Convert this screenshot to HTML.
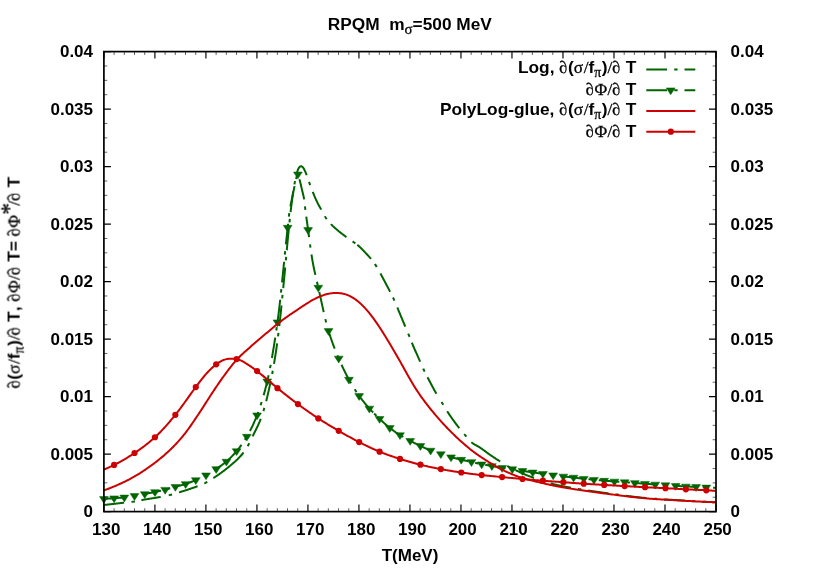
<!DOCTYPE html>
<html>
<head>
<meta charset="utf-8">
<title>RPQM m_sigma=500 MeV</title>
<style>
html,body{margin:0;padding:0;background:#ffffff;}
body{width:830px;height:581px;overflow:hidden;font-family:"Liberation Sans",sans-serif;}
svg{display:block;}
</style>
</head>
<body>
<svg width="830" height="581" viewBox="0 0 830 581">
<rect width="830" height="581" fill="#ffffff"/>
<g stroke="#000000" stroke-width="1.15" fill="none">
<path d="M103.90,511.60 v-7.00 M103.90,51.60 v7.00"/>
<path d="M154.91,511.60 v-7.00 M154.91,51.60 v7.00"/>
<path d="M205.92,511.60 v-7.00 M205.92,51.60 v7.00"/>
<path d="M256.93,511.60 v-7.00 M256.93,51.60 v7.00"/>
<path d="M307.93,511.60 v-7.00 M307.93,51.60 v7.00"/>
<path d="M358.94,511.60 v-7.00 M358.94,51.60 v7.00"/>
<path d="M409.95,511.60 v-7.00 M409.95,51.60 v7.00"/>
<path d="M460.96,511.60 v-7.00 M460.96,51.60 v7.00"/>
<path d="M511.97,511.60 v-7.00 M511.97,51.60 v7.00"/>
<path d="M562.98,511.60 v-7.00 M562.98,51.60 v7.00"/>
<path d="M613.98,511.60 v-7.00 M613.98,51.60 v7.00"/>
<path d="M664.99,511.60 v-7.00 M664.99,51.60 v7.00"/>
<path d="M716.00,511.60 v-7.00 M716.00,51.60 v7.00"/>
</g>
<g stroke="#555555" stroke-width="0.9" fill="none">
<path d="M114.10,511.60 v-3.40 M114.10,51.60 v3.40"/>
<path d="M124.30,511.60 v-3.40 M124.30,51.60 v3.40"/>
<path d="M134.50,511.60 v-3.40 M134.50,51.60 v3.40"/>
<path d="M144.71,511.60 v-3.40 M144.71,51.60 v3.40"/>
<path d="M165.11,511.60 v-3.40 M165.11,51.60 v3.40"/>
<path d="M175.31,511.60 v-3.40 M175.31,51.60 v3.40"/>
<path d="M185.51,511.60 v-3.40 M185.51,51.60 v3.40"/>
<path d="M195.72,511.60 v-3.40 M195.72,51.60 v3.40"/>
<path d="M216.12,511.60 v-3.40 M216.12,51.60 v3.40"/>
<path d="M226.32,511.60 v-3.40 M226.32,51.60 v3.40"/>
<path d="M236.52,511.60 v-3.40 M236.52,51.60 v3.40"/>
<path d="M246.72,511.60 v-3.40 M246.72,51.60 v3.40"/>
<path d="M267.13,511.60 v-3.40 M267.13,51.60 v3.40"/>
<path d="M277.33,511.60 v-3.40 M277.33,51.60 v3.40"/>
<path d="M287.53,511.60 v-3.40 M287.53,51.60 v3.40"/>
<path d="M297.73,511.60 v-3.40 M297.73,51.60 v3.40"/>
<path d="M318.13,511.60 v-3.40 M318.13,51.60 v3.40"/>
<path d="M328.34,511.60 v-3.40 M328.34,51.60 v3.40"/>
<path d="M338.54,511.60 v-3.40 M338.54,51.60 v3.40"/>
<path d="M348.74,511.60 v-3.40 M348.74,51.60 v3.40"/>
<path d="M369.14,511.60 v-3.40 M369.14,51.60 v3.40"/>
<path d="M379.35,511.60 v-3.40 M379.35,51.60 v3.40"/>
<path d="M389.55,511.60 v-3.40 M389.55,51.60 v3.40"/>
<path d="M399.75,511.60 v-3.40 M399.75,51.60 v3.40"/>
<path d="M420.15,511.60 v-3.40 M420.15,51.60 v3.40"/>
<path d="M430.35,511.60 v-3.40 M430.35,51.60 v3.40"/>
<path d="M440.55,511.60 v-3.40 M440.55,51.60 v3.40"/>
<path d="M450.76,511.60 v-3.40 M450.76,51.60 v3.40"/>
<path d="M471.16,511.60 v-3.40 M471.16,51.60 v3.40"/>
<path d="M481.36,511.60 v-3.40 M481.36,51.60 v3.40"/>
<path d="M491.56,511.60 v-3.40 M491.56,51.60 v3.40"/>
<path d="M501.76,511.60 v-3.40 M501.76,51.60 v3.40"/>
<path d="M522.17,511.60 v-3.40 M522.17,51.60 v3.40"/>
<path d="M532.37,511.60 v-3.40 M532.37,51.60 v3.40"/>
<path d="M542.57,511.60 v-3.40 M542.57,51.60 v3.40"/>
<path d="M552.77,511.60 v-3.40 M552.77,51.60 v3.40"/>
<path d="M573.18,511.60 v-3.40 M573.18,51.60 v3.40"/>
<path d="M583.38,511.60 v-3.40 M583.38,51.60 v3.40"/>
<path d="M593.58,511.60 v-3.40 M593.58,51.60 v3.40"/>
<path d="M603.78,511.60 v-3.40 M603.78,51.60 v3.40"/>
<path d="M624.19,511.60 v-3.40 M624.19,51.60 v3.40"/>
<path d="M634.39,511.60 v-3.40 M634.39,51.60 v3.40"/>
<path d="M644.59,511.60 v-3.40 M644.59,51.60 v3.40"/>
<path d="M654.79,511.60 v-3.40 M654.79,51.60 v3.40"/>
<path d="M675.19,511.60 v-3.40 M675.19,51.60 v3.40"/>
<path d="M685.40,511.60 v-3.40 M685.40,51.60 v3.40"/>
<path d="M695.60,511.60 v-3.40 M695.60,51.60 v3.40"/>
<path d="M705.80,511.60 v-3.40 M705.80,51.60 v3.40"/>
</g>
<g stroke="#000000" stroke-width="1.15" fill="none">
<path d="M103.90,511.60 h7.00 M716.00,511.60 h-7.00"/>
<path d="M103.90,454.10 h7.00 M716.00,454.10 h-7.00"/>
<path d="M103.90,396.60 h7.00 M716.00,396.60 h-7.00"/>
<path d="M103.90,339.10 h7.00 M716.00,339.10 h-7.00"/>
<path d="M103.90,281.60 h7.00 M716.00,281.60 h-7.00"/>
<path d="M103.90,224.10 h7.00 M716.00,224.10 h-7.00"/>
<path d="M103.90,166.60 h7.00 M716.00,166.60 h-7.00"/>
<path d="M103.90,109.10 h7.00 M716.00,109.10 h-7.00"/>
<path d="M103.90,51.60 h7.00 M716.00,51.60 h-7.00"/>
</g>
<g stroke="#555555" stroke-width="0.9" fill="none">
<path d="M103.90,497.23 h3.40 M716.00,497.23 h-3.40"/>
<path d="M103.90,482.85 h3.40 M716.00,482.85 h-3.40"/>
<path d="M103.90,468.48 h3.40 M716.00,468.48 h-3.40"/>
<path d="M103.90,439.73 h3.40 M716.00,439.73 h-3.40"/>
<path d="M103.90,425.35 h3.40 M716.00,425.35 h-3.40"/>
<path d="M103.90,410.98 h3.40 M716.00,410.98 h-3.40"/>
<path d="M103.90,382.23 h3.40 M716.00,382.23 h-3.40"/>
<path d="M103.90,367.85 h3.40 M716.00,367.85 h-3.40"/>
<path d="M103.90,353.48 h3.40 M716.00,353.48 h-3.40"/>
<path d="M103.90,324.73 h3.40 M716.00,324.73 h-3.40"/>
<path d="M103.90,310.35 h3.40 M716.00,310.35 h-3.40"/>
<path d="M103.90,295.98 h3.40 M716.00,295.98 h-3.40"/>
<path d="M103.90,267.23 h3.40 M716.00,267.23 h-3.40"/>
<path d="M103.90,252.85 h3.40 M716.00,252.85 h-3.40"/>
<path d="M103.90,238.48 h3.40 M716.00,238.48 h-3.40"/>
<path d="M103.90,209.73 h3.40 M716.00,209.73 h-3.40"/>
<path d="M103.90,195.35 h3.40 M716.00,195.35 h-3.40"/>
<path d="M103.90,180.98 h3.40 M716.00,180.98 h-3.40"/>
<path d="M103.90,152.23 h3.40 M716.00,152.23 h-3.40"/>
<path d="M103.90,137.85 h3.40 M716.00,137.85 h-3.40"/>
<path d="M103.90,123.48 h3.40 M716.00,123.48 h-3.40"/>
<path d="M103.90,94.73 h3.40 M716.00,94.73 h-3.40"/>
<path d="M103.90,80.35 h3.40 M716.00,80.35 h-3.40"/>
<path d="M103.90,65.98 h3.40 M716.00,65.98 h-3.40"/>
</g>
<clipPath id="c"><rect x="97.90" y="51.60" width="624.10" height="460.00"/></clipPath>
<g clip-path="url(#c)" fill="none" stroke-width="2" stroke-linejoin="round">
<path d="M103.90,505.00L104.34,504.95L104.78,504.90L105.21,504.85L105.65,504.80L106.09,504.75L106.53,504.69L106.96,504.64L107.40,504.59L107.84,504.54L108.28,504.49L108.71,504.44L109.15,504.39L109.59,504.34L110.03,504.29L110.46,504.24L110.90,504.19L111.34,504.14L111.78,504.09L112.21,504.04L112.65,503.99L113.09,503.94L113.53,503.89L113.96,503.84L114.40,503.79L114.84,503.74L115.28,503.69L115.71,503.64L116.15,503.59L116.59,503.54L117.03,503.49L117.46,503.44L117.90,503.40L118.34,503.35L118.78,503.30L119.21,503.25L119.65,503.20L120.09,503.15L120.53,503.10L120.96,503.05L121.40,503.00L121.84,502.95L122.28,502.90L122.71,502.85L123.15,502.81L123.59,502.76L124.03,502.71L124.10,502.70M141.40,500.10L141.53,500.08L141.96,500.00L142.40,499.92L142.84,499.84L143.28,499.77L143.71,499.69L144.15,499.62L144.59,499.55L145.03,499.47L145.47,499.40L145.90,499.33L146.34,499.26L146.78,499.19L147.22,499.12L147.65,499.05L148.09,498.98L148.53,498.91L148.97,498.84L149.40,498.77L149.84,498.70L150.28,498.63L150.72,498.56L151.15,498.50L151.59,498.43L152.03,498.36L152.47,498.29L152.90,498.22L153.34,498.15L153.78,498.08L154.22,498.01L154.65,497.94L155.09,497.87L155.53,497.80L155.97,497.73L156.40,497.65L156.84,497.58L157.28,497.51L157.72,497.43L158.15,497.36L158.59,497.28L159.03,497.20L159.47,497.13L159.90,497.05L160.34,496.97L160.70,496.90M179.00,492.40L179.15,492.35L179.59,492.22L180.03,492.08L180.47,491.95L180.90,491.81L181.34,491.68L181.78,491.54L182.22,491.40L182.65,491.27L183.09,491.13L183.53,490.99L183.97,490.85L184.40,490.72L184.84,490.58L185.28,490.44L185.72,490.30L186.16,490.16L186.59,490.02L187.03,489.88L187.47,489.73L187.91,489.59L188.34,489.45L188.78,489.30L189.22,489.16L189.66,489.01L190.09,488.86L190.53,488.72L190.97,488.57L191.41,488.42L191.84,488.27L192.28,488.12L192.72,487.96L193.16,487.81L193.59,487.66L194.03,487.50L194.47,487.34L194.91,487.19L195.34,487.03L195.78,486.87L196.22,486.70L196.66,486.54L197.09,486.38L197.53,486.21L197.60,486.19M213.40,478.06L213.72,477.85L214.16,477.56L214.59,477.27L215.03,476.98L215.47,476.69L215.91,476.40L216.34,476.10L216.78,475.81L217.22,475.51L217.66,475.21L218.09,474.91L218.53,474.61L218.97,474.31L219.41,474.00L219.84,473.70L220.28,473.39L220.72,473.07L221.16,472.76L221.59,472.44L222.03,472.13L222.47,471.81L222.91,471.48L223.34,471.16L223.78,470.83L224.22,470.49L224.66,470.16L225.09,469.82L225.53,469.48L225.97,469.14L226.41,468.79L226.85,468.44L227.28,468.09L227.72,467.73L228.16,467.37L228.60,467.01L229.03,466.65L229.47,466.29L229.91,465.92L230.35,465.56L230.78,465.20L231.22,464.83L231.66,464.46L232.10,464.09L232.53,463.72L232.97,463.35L233.41,462.97L233.85,462.59L234.28,462.20L234.72,461.81L235.16,461.42L235.60,461.02L236.03,460.61L236.47,460.20L236.91,459.79L237.35,459.37L237.78,458.94L238.22,458.50L238.66,458.06L239.10,457.61L239.53,457.16L239.97,456.69L240.41,456.22L240.85,455.74L241.28,455.25L241.72,454.75L242.16,454.25L242.60,453.73L243.03,453.20L243.47,452.66L243.60,452.50M252.60,436.40L252.66,436.28L253.10,435.38L253.53,434.49L253.97,433.60L254.41,432.72L254.85,431.85L255.28,430.97L255.72,430.09L256.16,429.21L256.60,428.31L257.03,427.41L257.47,426.49L257.91,425.56L258.35,424.61L258.78,423.63L259.22,422.64L259.66,421.61L260.10,420.56L260.53,419.47L260.80,418.79M131.51,501.92L131.90,501.87L132.34,501.82L132.78,501.76L133.21,501.70L133.65,501.63L134.09,501.56L134.53,501.49L134.88,501.43M168.74,495.29L169.09,495.21L169.53,495.11L169.97,495.00L170.40,494.90L170.84,494.79L171.28,494.68L171.72,494.57L172.05,494.48M204.27,483.44L204.53,483.32L204.97,483.11L205.41,482.90L205.84,482.68L206.28,482.45L206.72,482.22L207.16,481.98L207.30,481.90M247.67,446.20L247.85,445.88L248.28,445.11L248.72,444.32L249.16,443.49L249.30,443.22M263.41,411.13L263.60,410.52L264.03,409.04L264.37,407.87M297.13,172.20L297.29,171.66L297.72,170.32L298.16,169.18L298.60,168.30L299.04,167.69L299.47,167.16L299.91,166.70L300.35,166.37L300.79,166.21L301.22,166.25L301.66,166.43L302.10,166.72L302.54,167.08L302.97,167.47L303.41,168.02L303.85,168.74L304.29,169.58L304.72,170.45L305.16,171.35L305.60,172.34L306.04,173.41L306.47,174.52L306.74,175.20M266.14,401.29L266.22,400.97L266.66,399.23L267.10,397.45L267.54,395.63L267.97,393.77L268.41,391.87L268.85,389.93L269.29,387.96L269.72,385.95L270.16,383.90L270.60,381.81L270.74,381.11M272.14,374.04L272.35,372.97L272.77,370.70M273.98,363.91L274.10,363.20L274.54,360.59L274.97,357.91L275.41,355.16L275.85,352.33L276.29,349.42L276.72,346.38L277.12,343.45M278.04,336.31L278.46,332.93M279.27,326.08L279.35,325.38L279.79,321.57L280.22,317.62L280.66,313.54L281.10,309.34L281.49,305.50M282.21,298.34L282.41,296.26L282.54,294.95M283.21,288.09L283.29,287.31L283.72,282.83L284.16,278.35L284.60,273.78L285.04,269.12L285.19,267.48M285.85,260.31L285.91,259.60L286.16,256.93M286.78,250.05L286.79,250.04L287.22,245.30L287.66,240.63L288.10,236.06L288.54,231.61L288.76,229.45M289.49,222.29L289.84,218.90M290.59,212.04L290.72,210.83L291.16,207.12L291.60,203.64L292.04,200.27L292.47,197.04L292.91,193.95L293.27,191.52M294.45,184.42L294.66,183.19L295.05,181.07M312.70,191.85L313.04,192.68L313.48,193.74L313.91,194.79L314.35,195.83L314.79,196.85L315.23,197.85L315.66,198.84L316.10,199.81L316.54,200.76L316.98,201.69L317.41,202.61L317.85,203.50L318.29,204.37L318.73,205.21L319.16,206.01L319.60,206.80L320.04,207.57L320.48,208.34L320.91,209.11L321.20,209.62M330.90,224.09L330.98,224.18L331.41,224.63L331.85,225.08L332.29,225.51L332.73,225.94L333.16,226.36L333.60,226.77L334.04,227.17L334.48,227.56L334.91,227.95L335.35,228.34L335.79,228.72L336.23,229.09L336.66,229.46L337.10,229.83L337.54,230.20L337.98,230.56L338.41,230.93L338.85,231.29L339.29,231.65L339.73,232.01L340.16,232.36L340.60,232.71L341.04,233.05L341.48,233.40L341.91,233.74L342.35,234.07L342.79,234.41L343.23,234.74L343.66,235.07L344.10,235.40L344.54,235.73L344.98,236.05L345.41,236.37L345.85,236.70L346.29,237.02L346.50,237.17M357.30,244.84L357.67,245.13L358.10,245.49L358.54,245.86L358.98,246.25L359.42,246.65L359.85,247.06L360.29,247.48L360.73,247.90L361.17,248.33L361.60,248.76L362.04,249.20L362.48,249.64L362.92,250.09L363.35,250.54L363.79,250.99L364.23,251.45L364.67,251.91L365.10,252.38L365.54,252.84L365.98,253.31L366.42,253.78L366.85,254.25L367.29,254.72L367.73,255.20L368.17,255.68L368.60,256.17L369.04,256.67L369.48,257.17L369.92,257.68L370.35,258.20L370.79,258.73L371.00,258.99M380.40,273.52L380.42,273.55L380.85,274.34L381.29,275.14L381.73,275.94L382.17,276.74L382.60,277.55L383.04,278.35L383.48,279.17L383.92,279.98L384.35,280.80L384.79,281.62L385.23,282.45L385.67,283.27L386.10,284.10L386.54,284.94L386.98,285.77L387.42,286.61L387.85,287.45L388.29,288.29L388.73,289.14L389.17,289.99L389.61,290.84L390.04,291.69L390.10,291.80M397.30,307.50L397.48,307.93L397.92,308.97L398.36,310.02L398.79,311.07L399.23,312.12L399.67,313.17L400.11,314.22L400.54,315.28L400.98,316.33L401.42,317.39L401.86,318.44L402.29,319.49L402.73,320.55L403.17,321.60L403.61,322.65L404.04,323.70L404.48,324.75L404.92,325.79L405.30,326.70M411.80,342.60L411.92,342.89L412.36,343.94L412.79,344.98L413.23,346.01L413.67,347.02L414.11,348.03L414.54,349.03L414.98,350.02L415.42,351.01L415.86,351.99L416.29,352.97L416.73,353.95L417.17,354.92L417.61,355.89L418.04,356.86L418.48,357.84L418.92,358.82L419.36,359.80L419.79,360.78L420.20,361.70M427.50,377.30L427.67,377.63L428.11,378.46L428.54,379.28L428.98,380.09L429.42,380.91L429.86,381.73L430.29,382.56L430.73,383.39L431.17,384.21L431.61,385.04L432.05,385.87L432.48,386.70L432.92,387.52L433.36,388.33L433.80,389.15L434.23,389.95L434.67,390.75L435.11,391.54L435.55,392.31L435.98,393.08L436.40,393.80M447.20,411.30L447.36,411.54L447.80,412.21L448.23,412.87L448.67,413.52L449.11,414.17L449.55,414.82L449.98,415.46L450.42,416.10L450.86,416.74L451.30,417.37L451.73,417.99L452.17,418.61L452.61,419.23L453.05,419.84L453.48,420.45L453.92,421.06L454.36,421.66L454.80,422.26L455.23,422.85L455.67,423.44L456.11,424.03L456.55,424.61L456.98,425.19L457.42,425.77L457.86,426.34L458.30,426.91L458.73,427.47L459.17,428.04L459.30,428.20M471.30,442.20L471.42,442.30L471.86,442.64L472.30,442.97L472.74,443.28L473.17,443.57L473.61,443.86L474.05,444.13L474.49,444.39L474.92,444.65L475.36,444.90L475.80,445.15L476.24,445.39L476.67,445.63L477.11,445.87L477.55,446.12L477.99,446.37L478.42,446.62L478.86,446.88L479.30,447.15L479.74,447.43L480.17,447.72L480.61,448.01L481.05,448.31L481.49,448.62L481.92,448.93L482.36,449.24L482.80,449.55L483.24,449.87L483.67,450.19L484.11,450.51L484.55,450.84L484.99,451.16L485.42,451.49L485.86,451.81L486.30,452.14L486.74,452.46L487.17,452.78L487.61,453.10L488.05,453.42L488.49,453.74L488.92,454.05L489.36,454.36L489.80,454.66L490.24,454.96L490.67,455.26L491.11,455.56L491.55,455.86L491.99,456.15L492.42,456.45L492.86,456.74L493.30,457.03L493.74,457.33L494.17,457.62L494.61,457.91L495.05,458.19L495.49,458.48L495.92,458.77L496.36,459.05L496.80,459.34L497.24,459.62L497.67,459.90L498.11,460.18L498.55,460.46L498.99,460.74L499.42,461.01L499.86,461.29L500.20,461.50M515.90,470.30L516.05,470.37L516.49,470.59L516.93,470.80L517.36,471.01L517.80,471.22L518.24,471.43L518.68,471.64L519.11,471.85L519.55,472.06L519.99,472.27L520.43,472.47L520.86,472.68L521.30,472.88L521.74,473.08L522.18,473.28L522.61,473.47L523.05,473.67L523.49,473.86L523.93,474.05L524.36,474.23L524.80,474.42L525.24,474.60L525.68,474.78L526.11,474.96L526.55,475.13L526.99,475.31L527.43,475.48L527.86,475.65L528.30,475.83L528.74,476.00L529.18,476.16L529.61,476.33L530.05,476.50L530.49,476.67L530.93,476.83L531.36,476.99L531.80,477.16L532.24,477.32L532.68,477.48L533.11,477.64L533.55,477.79L533.99,477.95L534.00,477.95M309.04,181.89L309.10,182.06L309.54,183.32L309.98,184.55L310.17,185.10M324.79,216.21L324.85,216.32L325.29,217.03L325.73,217.69L326.16,218.32L326.60,218.93L326.68,219.03M352.61,241.44L352.85,241.61L353.29,241.92L353.73,242.23L354.17,242.55L354.60,242.86L355.04,243.18L355.38,243.42M374.85,264.05L375.17,264.51L375.60,265.16L376.04,265.83L376.48,266.53L376.70,266.90M392.97,297.47L393.11,297.74L393.54,298.66L393.98,299.61L394.40,300.55M408.25,333.63L408.42,334.03L408.86,335.09L409.29,336.18L409.53,336.78M423.19,368.55L423.29,368.79L423.73,369.74L424.17,370.67L424.61,371.58L424.63,371.63M441.50,401.96L441.67,402.23L442.11,402.93L442.55,403.64L442.98,404.36L443.28,404.85M464.19,434.11L464.42,434.38L464.86,434.89L465.30,435.40L465.73,435.91L466.17,436.44L466.39,436.71M507.22,465.76L507.30,465.81L507.74,466.06L508.17,466.31L508.61,466.55L509.05,466.79L509.49,467.03L509.92,467.27L510.19,467.41M540.82,480.27L540.99,480.32L541.43,480.46L541.86,480.61L542.30,480.75L542.74,480.89L543.18,481.03L543.61,481.17L544.05,481.31L544.05,481.31M550.65,483.33L551.05,483.44L551.49,483.56L551.93,483.68L552.36,483.80L552.80,483.92L553.24,484.04L553.68,484.16L554.12,484.27L554.55,484.38L554.99,484.49L555.43,484.60L555.87,484.71L556.30,484.81L556.74,484.92L557.18,485.02L557.62,485.12L558.05,485.21L558.49,485.31L558.93,485.41L559.37,485.50L559.80,485.59L560.24,485.69L560.68,485.78L561.12,485.87L561.55,485.96L561.99,486.04L562.43,486.13L562.87,486.22L563.30,486.30L563.74,486.38L564.18,486.47L564.62,486.55L565.05,486.63L565.49,486.71L565.93,486.79L566.37,486.87L566.80,486.95L567.24,487.03L567.68,487.11L568.12,487.19L568.55,487.26L568.99,487.34L569.43,487.42L569.87,487.49L570.30,487.57L570.74,487.64L570.88,487.67M577.98,488.87L578.18,488.90L578.62,488.97L579.05,489.04L579.49,489.12L579.93,489.19L580.37,489.26L580.80,489.33L581.24,489.40L581.34,489.42M588.15,490.48L588.24,490.50L588.68,490.56L589.12,490.63L589.55,490.69L589.99,490.76L590.43,490.83L590.87,490.89L591.30,490.96L591.74,491.02L592.18,491.09L592.62,491.15L593.05,491.21L593.49,491.28L593.93,491.34L594.37,491.41L594.81,491.47L595.24,491.53L595.68,491.60L596.12,491.66L596.56,491.72L596.99,491.79L597.43,491.85L597.87,491.91L598.31,491.97L598.74,492.03L599.18,492.09L599.62,492.16L600.06,492.22L600.49,492.28L600.93,492.34L601.37,492.40L601.81,492.46L602.24,492.52L602.68,492.58L603.12,492.63L603.56,492.69L603.99,492.75L604.43,492.81L604.87,492.87L605.31,492.93L605.74,492.99L606.18,493.05L606.62,493.10L607.06,493.16L607.49,493.22L607.93,493.28L608.37,493.34L608.65,493.37M615.79,494.32L615.81,494.32L616.24,494.38L616.68,494.44L617.12,494.50L617.56,494.56L617.99,494.62L618.43,494.68L618.87,494.74L619.16,494.78M625.99,495.73L626.31,495.78L626.74,495.84L627.18,495.90L627.62,495.95L628.06,496.01L628.49,496.07L628.93,496.13L629.37,496.19L629.81,496.25L630.24,496.30L630.68,496.36L631.12,496.42L631.56,496.47L631.99,496.53L632.43,496.58L632.87,496.64L633.31,496.69L633.74,496.74L634.18,496.79L634.62,496.85L635.06,496.90L635.50,496.95L635.93,497.00L636.37,497.05L636.81,497.09L637.25,497.14L637.68,497.19L638.12,497.23L638.56,497.28L639.00,497.32L639.43,497.37L639.87,497.41L640.31,497.46L640.75,497.50L641.18,497.54L641.62,497.59L642.06,497.63L642.50,497.67L642.93,497.71L643.37,497.76L643.81,497.80L644.25,497.84L644.68,497.88L645.12,497.92L645.56,497.96L646.00,498.00L646.43,498.04L646.56,498.05M653.73,498.65L653.87,498.66L654.31,498.69L654.75,498.72L655.18,498.76L655.62,498.79L656.06,498.82L656.50,498.86L656.93,498.89L657.12,498.90M664.01,499.36L664.37,499.38L664.81,499.41L665.25,499.44L665.68,499.46L666.12,499.49L666.56,499.51L667.00,499.54L667.43,499.57L667.87,499.59L668.31,499.62L668.75,499.64L669.18,499.67L669.62,499.70L670.06,499.72L670.50,499.75L670.93,499.77L671.37,499.80L671.81,499.82L672.25,499.85L672.68,499.88L673.12,499.90L673.56,499.93L674.00,499.95L674.43,499.98L674.87,500.01L675.31,500.03L675.75,500.06L676.19,500.09L676.62,500.11L677.06,500.14L677.50,500.17L677.94,500.20L678.37,500.22L678.81,500.25L679.25,500.28L679.69,500.31L680.12,500.34L680.56,500.36L681.00,500.39L681.44,500.42L681.87,500.45L682.31,500.48L682.75,500.50L683.19,500.53L683.62,500.56L684.06,500.59L684.50,500.62L684.67,500.63M691.85,501.08L691.94,501.08L692.37,501.11L692.81,501.14L693.25,501.16L693.69,501.19L694.12,501.21L694.56,501.24L695.00,501.26L695.25,501.27M702.14,501.64L702.44,501.66L702.87,501.68L703.31,501.70L703.75,501.73L704.19,501.75L704.62,501.77L705.06,501.79L705.50,501.81L705.94,501.84L706.37,501.86L706.81,501.88L707.25,501.90L707.69,501.92L708.12,501.94L708.56,501.96L709.00,501.98L709.44,502.00L709.87,502.03L710.31,502.05L710.75,502.07L711.19,502.09L711.62,502.11L712.06,502.13L712.50,502.15L712.94,502.17L713.37,502.19L713.81,502.20L714.25,502.22L714.69,502.24L715.12,502.26L715.56,502.28L716.00,502.30" stroke="#006400"/>
<path d="M103.90,498.90L104.34,498.87L104.78,498.84L105.21,498.82L105.65,498.79L106.09,498.76L106.53,498.73L106.96,498.70L107.40,498.67L107.84,498.64L108.28,498.61L108.71,498.58L109.15,498.55L109.59,498.52L110.03,498.49L110.46,498.46L110.90,498.43L111.34,498.40L111.78,498.37L112.21,498.34L112.65,498.31L113.09,498.27L113.53,498.24L113.96,498.21L114.40,498.18L114.84,498.15L115.28,498.12L115.71,498.08L116.15,498.05L116.59,498.02L117.03,497.99L117.46,497.96L117.90,497.93L118.34,497.90L118.78,497.87L119.21,497.84L119.65,497.80L120.09,497.77L120.53,497.74L120.96,497.70L121.40,497.67L121.84,497.63L122.28,497.59L122.71,497.55L123.15,497.51L123.59,497.47L124.03,497.43L124.46,497.38L124.90,497.34L125.34,497.29L125.78,497.23L126.00,497.21M143.00,494.33L143.28,494.28L143.71,494.19L144.15,494.11L144.59,494.02L145.03,493.94L145.47,493.86L145.90,493.77L146.34,493.69L146.78,493.61L147.22,493.52L147.65,493.44L148.09,493.35L148.53,493.27L148.97,493.19L149.40,493.10L149.84,493.02L150.28,492.93L150.72,492.85L151.15,492.76L151.59,492.67L152.03,492.59L152.47,492.50L152.90,492.41L153.34,492.32L153.78,492.23L154.22,492.14L154.65,492.05L155.09,491.96L155.53,491.87L155.97,491.78L156.40,491.68L156.84,491.59L157.28,491.50L157.72,491.40L158.15,491.31L158.59,491.22L159.03,491.12L159.47,491.02L159.90,490.93L160.34,490.83L160.78,490.73L161.00,490.68M175.50,486.75L175.65,486.70L176.09,486.59L176.53,486.47L176.97,486.35L177.40,486.23L177.84,486.12L178.28,486.01L178.72,485.89L179.15,485.78L179.59,485.67L180.03,485.55L180.47,485.44L180.90,485.32L181.34,485.21L181.78,485.09L182.22,484.97L182.65,484.85L183.09,484.73L183.53,484.60L183.97,484.47L184.40,484.34L184.84,484.21L185.28,484.07L185.72,483.93L186.16,483.79L186.59,483.65L187.03,483.50L187.47,483.35L187.91,483.19L188.34,483.03L188.78,482.87L189.22,482.71L189.66,482.55L190.09,482.38L190.53,482.21L190.97,482.04L191.41,481.87L191.84,481.70L192.28,481.52L192.72,481.34L193.16,481.17L193.59,480.99L194.03,480.80L194.47,480.62L194.91,480.44L195.34,480.26L195.78,480.07L196.22,479.89L196.66,479.70L197.09,479.51L197.30,479.42M214.00,470.40L214.16,470.30L214.59,470.01L215.03,469.72L215.47,469.43L215.91,469.14L216.34,468.85L216.78,468.56L217.22,468.27L217.66,467.97L218.09,467.68L218.53,467.38L218.97,467.09L219.41,466.79L219.84,466.49L220.28,466.19L220.72,465.88L221.16,465.57L221.59,465.26L222.03,464.95L222.47,464.63L222.91,464.30L223.34,463.98L223.78,463.64L224.22,463.31L224.66,462.96L225.09,462.61L225.53,462.26L225.97,461.89L226.41,461.53L226.85,461.15L227.28,460.77L227.72,460.38L228.16,459.98L228.60,459.58L229.03,459.17L229.47,458.76L229.91,458.34L230.35,457.91L230.78,457.47L231.22,457.03L231.66,456.59L232.10,456.13L232.53,455.67L232.97,455.21L233.41,454.73L233.85,454.26L234.28,453.77L234.72,453.28L235.16,452.79L235.60,452.28L236.03,451.77L236.47,451.26L236.91,450.74L237.35,450.21L237.78,449.68L238.22,449.13L238.66,448.58L239.10,448.03L239.53,447.46L239.97,446.88L240.41,446.30L240.85,445.71L241.28,445.11L241.50,444.80M132.82,496.18L133.21,496.11L133.65,496.04L134.09,495.97L134.53,495.90L134.96,495.82L135.40,495.75L135.84,495.67L136.18,495.62M166.86,489.24L166.90,489.23L167.34,489.11L167.78,488.99L168.22,488.86L168.65,488.74L169.09,488.61L169.53,488.48L169.97,488.36L170.13,488.31M204.29,476.15L204.53,476.03L204.97,475.80L205.41,475.57L205.84,475.34L206.28,475.10L206.72,474.86L207.16,474.62L207.29,474.54M244.85,439.85L245.22,439.26L245.66,438.56L246.10,437.84L246.53,437.12L246.63,436.95M250.00,430.93L250.03,430.87L250.47,430.02L250.91,429.16L251.35,428.29L251.78,427.40L252.22,426.49L252.66,425.56L253.10,424.62L253.53,423.66L253.97,422.69L254.41,421.69L254.85,420.68L255.28,419.65L255.72,418.60L256.16,417.52L256.60,416.43L257.03,415.32L257.47,414.18L257.91,413.02L258.29,411.98M260.65,405.18L260.97,404.17L261.41,402.79L261.68,401.94M263.63,395.32L264.03,393.87L264.47,392.27L264.91,390.64L265.35,388.97L265.78,387.26L266.22,385.52L266.66,383.74L267.10,381.92L267.54,380.06L267.97,378.12L268.41,376.13L268.60,375.23M270.03,368.17L270.16,367.53L270.60,365.23L270.67,364.83M271.90,358.04L271.91,358.00L272.35,355.47L272.79,352.90L273.22,350.27L273.66,347.58L274.10,344.85L274.54,342.07L274.97,339.24L275.22,337.61M276.28,330.49L276.29,330.46L276.72,327.45L276.77,327.13M277.73,320.29L278.04,317.97L278.47,314.54L278.91,310.96L279.35,307.25L279.79,303.43L280.20,299.74M280.97,292.58L281.10,291.36L281.32,289.20M282.04,282.34L282.41,278.66L282.85,274.34L283.29,270.00L283.72,265.64L284.11,261.74M284.84,254.58L285.04,252.62L285.18,251.20M285.89,244.33L285.91,244.09L286.35,239.91L286.79,235.80L287.22,231.77L287.66,227.81L288.09,223.75M288.87,216.59L288.97,215.71L289.29,213.22M290.39,206.41L290.72,204.64L291.16,202.48L291.60,200.39L292.04,198.29L292.47,196.14L292.91,193.99L293.35,191.89L293.79,189.81L294.22,187.76L294.57,186.14M296.08,179.09L296.41,177.65L296.85,176.20L296.98,175.82M299.40,179.15L299.47,179.41L299.91,180.99L300.35,182.73L300.79,184.58L301.22,186.49L301.66,188.40L302.10,190.24L302.54,191.97L302.97,193.70L303.41,195.58L303.85,197.75L304.10,199.30M304.97,206.45L305.16,208.03L305.39,209.82M306.28,216.66L306.47,218.09L306.91,221.30L307.35,224.47L307.79,227.64L308.23,230.83L308.66,234.07L309.08,237.17M310.04,244.31L310.41,247.07L310.50,247.68M311.48,254.51L311.73,256.12L312.16,258.87L312.60,261.44L313.04,263.84L313.48,266.11L313.91,268.28L314.35,270.37L314.79,272.37L315.23,274.32L315.34,274.84M316.99,281.85L317.41,283.66L317.76,285.16M319.27,291.89L319.60,293.39L320.04,295.39L320.48,297.39L320.91,299.40L321.35,301.41L321.79,303.41L322.23,305.41L322.66,307.39L323.10,309.36L323.54,311.30L323.72,312.11M325.36,319.12L325.73,320.62L326.16,322.37L326.18,322.42M327.98,329.08L328.35,330.35L328.79,331.78L329.23,333.19L329.66,334.56L330.10,335.91L330.54,337.23L330.98,338.52L331.41,339.79L331.85,341.04L332.29,342.26L332.73,343.47L333.16,344.65L333.60,345.81L334.04,346.96L334.48,348.09L334.70,348.65M337.41,355.32L337.54,355.63L337.98,356.67L338.41,357.71L338.73,358.45M341.52,364.76L341.91,365.63L342.35,366.58L342.79,367.51L343.23,368.43L343.66,369.34L344.10,370.25L344.54,371.14L344.98,372.02L345.41,372.89L345.85,373.75L346.29,374.61L346.73,375.45L347.16,376.28L347.60,377.11L348.04,377.92L348.48,378.72L348.92,379.52L349.35,380.30L349.79,381.08L350.23,381.85L350.67,382.62L350.98,383.16M354.72,389.32L355.04,389.83L355.48,390.51L355.92,391.18L356.35,391.84L356.57,392.17M360.55,397.80L360.73,398.03L361.17,398.61L361.60,399.18L362.04,399.75L362.48,400.31L362.92,400.86L363.35,401.41L363.79,401.95L364.23,402.48L364.67,403.02L365.10,403.54L365.54,404.06L365.98,404.58L366.42,405.09L366.85,405.60L367.29,406.10L367.73,406.60L368.17,407.10L368.60,407.60L369.04,408.09L369.48,408.57L369.92,409.06L370.35,409.53L370.79,410.01L371.23,410.48L371.67,410.94L372.10,411.41L372.54,411.86L372.98,412.32L373.20,412.54M374.10,413.47L374.29,413.66L374.73,414.10L375.17,414.54L375.60,414.97L376.04,415.41L376.48,415.84L376.51,415.87M439.18,453.55L439.48,453.65L439.92,453.79L440.36,453.94L440.80,454.08L441.23,454.22L441.67,454.36L442.11,454.50L442.42,454.60M377.30,416.64L377.35,416.69L377.79,417.11L378.23,417.53L378.67,417.95L379.10,418.37L379.54,418.79L379.98,419.20L380.42,419.62L380.85,420.03L381.29,420.44L381.73,420.85L382.17,421.26L382.60,421.67L383.04,422.08L383.48,422.48L383.92,422.88L384.35,423.28L384.79,423.67L385.23,424.06L385.67,424.45L386.10,424.83L386.54,425.21L386.98,425.59L387.42,425.96L387.85,426.33L388.29,426.69L388.73,427.05L389.17,427.40L389.61,427.75L390.04,428.09L390.48,428.43L390.92,428.76L391.36,429.10L391.79,429.43L392.23,429.75L392.67,430.08L393.11,430.40L393.54,430.71L393.98,431.03L394.42,431.34L394.86,431.65L395.29,431.95L395.73,432.26L396.17,432.55L396.61,432.85L397.04,433.15L397.48,433.44L397.92,433.72L398.36,434.01L398.79,434.29L399.23,434.57L399.67,434.85L400.11,435.12L400.54,435.40L400.98,435.66L401.42,435.93L401.86,436.19L402.29,436.45L402.73,436.71L403.17,436.96L403.20,436.98M407.60,439.44L407.98,439.65L408.42,439.88L408.86,440.12L409.29,440.35L409.73,440.58L410.17,440.82L410.61,441.05L411.04,441.28L411.48,441.51L411.92,441.73L412.36,441.96L412.79,442.18L413.23,442.41L413.67,442.63L414.11,442.85L414.54,443.07L414.98,443.29L415.42,443.51L415.86,443.72L416.29,443.94L416.73,444.15L417.17,444.37L417.61,444.58L418.04,444.79L418.48,445.00L418.92,445.21L419.36,445.42L419.79,445.63L420.23,445.84L420.67,446.05L421.11,446.25L421.54,446.46L421.98,446.67L422.42,446.88L422.86,447.08L423.29,447.29L423.73,447.49L424.17,447.70L424.61,447.90L425.04,448.10L425.48,448.30L425.92,448.50L426.36,448.70L426.79,448.90L427.23,449.09L427.67,449.28L428.11,449.47L428.54,449.66L428.98,449.84L429.42,450.02L429.86,450.20L430.29,450.38L430.73,450.55L431.17,450.72L431.20,450.73M448.00,456.32L448.23,456.39L448.67,456.52L449.11,456.64L449.55,456.77L449.98,456.89L450.42,457.01L450.86,457.13L451.30,457.25L451.73,457.36L452.17,457.48L452.61,457.59L453.05,457.70L453.48,457.81L453.92,457.92L454.36,458.03L454.80,458.14L455.23,458.25L455.67,458.35L456.11,458.46L456.55,458.56L456.98,458.67L457.42,458.77L457.86,458.87L458.30,458.98L458.73,459.08L459.17,459.18L459.61,459.28L460.05,459.39L460.48,459.49L460.92,459.59L461.36,459.69L461.80,459.80L462.23,459.90L462.67,460.00L463.11,460.10L463.55,460.20L463.98,460.30L464.42,460.40L464.86,460.49L465.30,460.59L465.73,460.69L466.17,460.79L466.61,460.88L467.05,460.98L467.48,461.08L467.92,461.18L468.11,461.22M475.13,462.83L475.36,462.88L475.80,462.98L476.24,463.09L476.67,463.19L477.11,463.29L477.55,463.39L477.99,463.49L478.42,463.59L478.44,463.59M485.22,464.87L485.42,464.90L485.86,464.97L486.30,465.04L486.74,465.11L487.17,465.18L487.61,465.25L488.05,465.32L488.49,465.39L488.92,465.46L489.36,465.53L489.80,465.60L490.24,465.67L490.67,465.75L491.11,465.82L491.55,465.90L491.99,465.98L492.42,466.06L492.86,466.14L493.30,466.22L493.74,466.30L494.17,466.39L494.61,466.47L495.05,466.56L495.49,466.65L495.92,466.73L496.36,466.82L496.80,466.91L497.24,466.99L497.67,467.08L498.11,467.16L498.55,467.25L498.99,467.33L499.42,467.41L499.86,467.49L500.30,467.56L500.74,467.64L501.17,467.71L501.61,467.78L502.05,467.84L502.49,467.91L502.92,467.97L503.36,468.03L503.80,468.08L504.24,468.14L504.67,468.20L505.11,468.25L505.55,468.30L505.63,468.31M512.77,469.22L512.99,469.25L513.43,469.32L513.86,469.39L514.30,469.46L514.74,469.53L515.18,469.61L515.61,469.68L516.05,469.76L516.12,469.77M522.93,470.92L523.05,470.94L523.49,471.00L523.93,471.07L524.36,471.14L524.80,471.20L525.24,471.27L525.68,471.33L526.11,471.39L526.55,471.46L526.99,471.52L527.43,471.58L527.86,471.65L528.30,471.71L528.74,471.77L529.18,471.84L529.61,471.90L530.05,471.96L530.49,472.03L530.93,472.09L531.36,472.15L531.80,472.22L532.24,472.28L532.68,472.35L533.11,472.41L533.55,472.47L533.99,472.54L534.43,472.60L534.86,472.67L535.30,472.73L535.74,472.80L536.18,472.86L536.61,472.93L537.05,472.99L537.49,473.06L537.93,473.12L538.36,473.19L538.80,473.25L539.24,473.32L539.68,473.38L540.11,473.45L540.55,473.51L540.99,473.57L541.43,473.64L541.86,473.70L542.30,473.76L542.74,473.82L543.18,473.89L543.41,473.92M550.54,474.91L550.61,474.92L551.05,474.98L551.49,475.03L551.93,475.09L552.36,475.15L552.80,475.20L553.24,475.26L553.68,475.31L553.91,475.34M560.76,476.15L561.12,476.19L561.55,476.24L561.99,476.29L562.43,476.34L562.87,476.39L563.30,476.44L563.74,476.49L564.18,476.53L564.62,476.58L565.05,476.63L565.49,476.68L565.93,476.72L566.37,476.77L566.80,476.82L567.24,476.86L567.68,476.91L568.12,476.95L568.55,477.00L568.99,477.05L569.43,477.09L569.87,477.14L570.30,477.19L570.74,477.23L571.18,477.28L571.62,477.33L572.05,477.38L572.49,477.42L572.93,477.47L573.37,477.52L573.80,477.57L574.24,477.62L574.68,477.67L575.12,477.72L575.55,477.78L575.99,477.83L576.43,477.88L576.87,477.94L577.30,477.99L577.74,478.04L578.18,478.10L578.62,478.15L579.05,478.20L579.49,478.25L579.93,478.31L580.37,478.36L580.80,478.41L581.24,478.46L581.33,478.47M588.49,479.22L588.68,479.24L589.12,479.28L589.55,479.32L589.99,479.36L590.43,479.40L590.87,479.45L591.30,479.49L591.74,479.53L591.88,479.54M598.75,480.17L599.18,480.21L599.62,480.24L600.06,480.28L600.49,480.32L600.93,480.36L601.37,480.40L601.81,480.43L602.24,480.47L602.68,480.51L603.12,480.54L603.56,480.58L603.99,480.62L604.43,480.65L604.87,480.69L605.31,480.73L605.74,480.76L606.18,480.80L606.62,480.83L607.06,480.87L607.49,480.90L607.93,480.94L608.37,480.97L608.81,481.01L609.24,481.04L609.68,481.07L610.12,481.11L610.56,481.14L610.99,481.18L611.43,481.21L611.87,481.24L612.31,481.28L612.74,481.31L613.18,481.34L613.62,481.37L614.06,481.41L614.49,481.44L614.93,481.47L615.37,481.50L615.81,481.53L616.24,481.56L616.68,481.59L617.12,481.62L617.56,481.65L617.99,481.68L618.43,481.71L618.87,481.74L619.31,481.76L619.39,481.77M626.57,482.28L626.74,482.29L627.18,482.33L627.62,482.36L628.06,482.40L628.49,482.43L628.93,482.47L629.37,482.50L629.81,482.53L629.96,482.55M636.84,483.09L637.25,483.13L637.68,483.16L638.12,483.20L638.56,483.23L639.00,483.27L639.43,483.30L639.87,483.34L640.31,483.37L640.75,483.41L641.18,483.44L641.62,483.48L642.06,483.51L642.50,483.54L642.93,483.58L643.37,483.61L643.81,483.64L644.25,483.67L644.68,483.71L645.12,483.74L645.56,483.77L646.00,483.80L646.43,483.83L646.87,483.86L647.31,483.89L647.75,483.92L648.18,483.95L648.62,483.98L649.06,484.01L649.50,484.04L649.93,484.07L650.37,484.10L650.81,484.13L651.25,484.16L651.68,484.19L652.12,484.22L652.56,484.25L653.00,484.28L653.43,484.31L653.87,484.34L654.31,484.37L654.75,484.40L655.18,484.43L655.62,484.46L656.06,484.49L656.50,484.52L656.93,484.55L657.37,484.58L657.48,484.58M664.67,485.08L664.81,485.09L665.25,485.12L665.68,485.15L666.12,485.18L666.56,485.21L667.00,485.24L667.43,485.27L667.87,485.30L668.06,485.31M674.94,485.78L675.31,485.81L675.75,485.83L676.19,485.86L676.62,485.89L677.06,485.92L677.50,485.94L677.94,485.97L678.37,486.00L678.81,486.02L679.25,486.05L679.69,486.08L680.12,486.10L680.56,486.13L681.00,486.15L681.44,486.18L681.87,486.20L682.31,486.23L682.75,486.25L683.19,486.28L683.62,486.30L684.06,486.33L684.50,486.35L684.94,486.38L685.37,486.40L685.81,486.42L686.25,486.45L686.69,486.47L687.12,486.49L687.56,486.51L688.00,486.53L688.44,486.56L688.87,486.58L689.31,486.60L689.75,486.62L690.19,486.64L690.62,486.66L691.06,486.68L691.50,486.70L691.94,486.72L692.37,486.75L692.81,486.77L693.25,486.79L693.69,486.81L694.12,486.83L694.56,486.85L695.00,486.87L695.44,486.89L695.61,486.90M702.80,487.25L702.87,487.26L703.31,487.28L703.75,487.30L704.19,487.32L704.62,487.34L705.06,487.36L705.50,487.39L705.94,487.41L706.20,487.42M713.09,487.76L713.37,487.77L713.81,487.79L714.25,487.81L714.69,487.84L715.12,487.86L715.56,487.88L716.00,487.90" stroke="#006400"/>
<g fill="#006400" stroke="#006400" stroke-width="0.5" stroke-linejoin="round">
<path d="M99.50,496.60 L108.30,496.60 L103.90,503.40 Z"/>
<path d="M109.71,495.90 L118.51,495.90 L114.11,502.70 Z"/>
<path d="M119.92,495.10 L128.72,495.10 L124.32,501.90 Z"/>
<path d="M130.13,493.60 L138.93,493.60 L134.53,500.40 Z"/>
<path d="M140.34,491.69 L149.14,491.69 L144.74,498.49 Z"/>
<path d="M150.55,489.69 L159.35,489.69 L154.95,496.49 Z"/>
<path d="M160.76,487.39 L169.56,487.39 L165.16,494.19 Z"/>
<path d="M170.97,484.48 L179.77,484.48 L175.37,491.28 Z"/>
<path d="M181.18,481.68 L189.98,481.68 L185.58,488.48 Z"/>
<path d="M191.39,477.77 L200.19,477.77 L195.79,484.57 Z"/>
<path d="M201.60,472.96 L210.40,472.96 L206.00,479.76 Z"/>
<path d="M211.81,466.64 L220.61,466.64 L216.21,473.44 Z"/>
<path d="M222.02,459.22 L230.82,459.22 L226.42,466.02 Z"/>
<path d="M232.23,448.77 L241.03,448.77 L236.63,455.57 Z"/>
<path d="M242.44,434.30 L251.24,434.30 L246.84,441.10 Z"/>
<path d="M252.65,412.98 L261.45,412.98 L257.05,419.78 Z"/>
<path d="M262.86,378.94 L271.66,378.94 L267.26,385.74 Z"/>
<path d="M273.07,319.89 L281.87,319.89 L277.47,326.69 Z"/>
<path d="M283.28,225.34 L292.08,225.34 L287.68,232.14 Z"/>
<path d="M293.49,172.07 L302.29,172.07 L297.89,178.87 Z"/>
<path d="M303.70,227.62 L312.50,227.62 L308.10,234.42 Z"/>
<path d="M313.91,285.28 L322.71,285.28 L318.31,292.08 Z"/>
<path d="M324.12,328.61 L332.92,328.61 L328.52,335.41 Z"/>
<path d="M334.33,356.15 L343.13,356.15 L338.73,362.95 Z"/>
<path d="M344.54,377.26 L353.34,377.26 L348.94,384.06 Z"/>
<path d="M354.75,393.59 L363.55,393.59 L359.15,400.39 Z"/>
<path d="M364.96,406.14 L373.76,406.14 L369.36,412.94 Z"/>
<path d="M375.17,416.51 L383.97,416.51 L379.57,423.31 Z"/>
<path d="M385.38,425.58 L394.18,425.58 L389.78,432.38 Z"/>
<path d="M395.59,432.75 L404.39,432.75 L399.99,439.55 Z"/>
<path d="M405.80,438.53 L414.60,438.53 L410.20,445.33 Z"/>
<path d="M416.01,443.62 L424.81,443.62 L420.41,450.42 Z"/>
<path d="M426.22,448.21 L435.02,448.21 L430.62,455.01 Z"/>
<path d="M436.43,451.79 L445.23,451.79 L440.83,458.59 Z"/>
<path d="M446.64,454.88 L455.44,454.88 L451.04,461.68 Z"/>
<path d="M456.85,457.37 L465.65,457.37 L461.25,464.17 Z"/>
<path d="M467.06,459.67 L475.86,459.67 L471.46,466.47 Z"/>
<path d="M477.27,461.96 L486.07,461.96 L481.67,468.76 Z"/>
<path d="M487.48,463.66 L496.28,463.66 L491.88,470.46 Z"/>
<path d="M497.69,465.55 L506.49,465.55 L502.09,472.35 Z"/>
<path d="M507.90,466.85 L516.70,466.85 L512.30,473.65 Z"/>
<path d="M518.11,468.55 L526.91,468.55 L522.51,475.35 Z"/>
<path d="M528.32,470.05 L537.12,470.05 L532.72,476.85 Z"/>
<path d="M538.53,471.55 L547.33,471.55 L542.93,478.35 Z"/>
<path d="M548.74,472.95 L557.54,472.95 L553.14,479.75 Z"/>
<path d="M558.95,474.14 L567.75,474.14 L563.35,480.94 Z"/>
<path d="M569.16,475.24 L577.96,475.24 L573.56,482.04 Z"/>
<path d="M579.37,476.44 L588.17,476.44 L583.77,483.24 Z"/>
<path d="M589.58,477.44 L598.38,477.44 L593.98,484.24 Z"/>
<path d="M599.79,478.33 L608.59,478.33 L604.19,485.13 Z"/>
<path d="M610.00,479.13 L618.80,479.13 L614.40,485.93 Z"/>
<path d="M620.21,479.83 L629.01,479.83 L624.61,486.63 Z"/>
<path d="M630.42,480.63 L639.22,480.63 L634.82,487.43 Z"/>
<path d="M640.63,481.43 L649.43,481.43 L645.03,488.23 Z"/>
<path d="M650.84,482.13 L659.64,482.13 L655.24,488.93 Z"/>
<path d="M661.05,482.83 L669.85,482.83 L665.45,489.63 Z"/>
<path d="M671.26,483.53 L680.06,483.53 L675.66,490.33 Z"/>
<path d="M681.47,484.13 L690.27,484.13 L685.87,490.93 Z"/>
<path d="M691.68,484.62 L700.48,484.62 L696.08,491.42 Z"/>
<path d="M701.89,485.12 L710.69,485.12 L706.29,491.92 Z"/>
</g>
<path d="M103.90,490.38L104.78,490.07L105.65,489.75L106.53,489.43L107.40,489.10L108.28,488.77L109.15,488.44L110.03,488.10L110.91,487.75L111.78,487.40L112.66,487.05L113.53,486.69L114.41,486.32L115.28,485.96L116.16,485.58L117.04,485.20L117.91,484.82L118.79,484.43L119.66,484.03L120.54,483.63L121.41,483.23L122.29,482.82L123.16,482.41L124.04,481.98L124.92,481.56L125.79,481.13L126.67,480.69L127.54,480.24L128.42,479.79L129.29,479.34L130.17,478.87L131.05,478.40L131.92,477.93L132.80,477.44L133.67,476.95L134.55,476.45L135.42,475.94L136.30,475.43L137.18,474.90L138.05,474.37L138.93,473.83L139.80,473.28L140.68,472.73L141.55,472.16L142.43,471.59L143.31,471.02L144.18,470.43L145.06,469.84L145.93,469.24L146.81,468.64L147.68,468.03L148.56,467.41L149.44,466.79L150.31,466.16L151.19,465.53L152.06,464.89L152.94,464.25L153.81,463.59L154.69,462.93L155.57,462.27L156.44,461.59L157.32,460.91L158.19,460.22L159.07,459.53L159.94,458.82L160.82,458.10L161.69,457.38L162.57,456.64L163.45,455.90L164.32,455.14L165.20,454.37L166.07,453.60L166.95,452.81L167.82,452.01L168.70,451.19L169.58,450.37L170.45,449.53L171.33,448.68L172.20,447.82L173.08,446.94L173.95,446.05L174.83,445.15L175.71,444.23L176.58,443.30L177.46,442.35L178.33,441.39L179.21,440.41L180.08,439.42L180.96,438.40L181.84,437.37L182.71,436.31L183.59,435.23L184.46,434.13L185.34,433.01L186.21,431.86L187.09,430.69L187.97,429.49L188.84,428.28L189.72,427.05L190.59,425.81L191.47,424.56L192.34,423.29L193.22,422.01L194.09,420.73L194.97,419.43L195.85,418.13L196.72,416.82L197.60,415.51L198.47,414.19L199.35,412.86L200.22,411.52L201.10,410.18L201.98,408.84L202.85,407.48L203.73,406.13L204.60,404.77L205.48,403.40L206.35,402.04L207.23,400.67L208.11,399.30L208.98,397.94L209.86,396.58L210.73,395.22L211.61,393.88L212.48,392.54L213.36,391.21L214.24,389.89L215.11,388.58L215.99,387.28L216.86,385.99L217.74,384.70L218.61,383.43L219.49,382.17L220.37,380.92L221.24,379.67L222.12,378.44L222.99,377.21L223.87,376.00L224.74,374.80L225.62,373.60L226.50,372.42L227.37,371.25L228.25,370.08L229.12,368.94L230.00,367.80L230.87,366.68L231.75,365.58L232.62,364.49L233.50,363.43L234.38,362.39L235.25,361.38L236.13,360.39L237.00,359.43L237.88,358.49L238.75,357.59L239.63,356.70L240.51,355.84L241.38,354.99L242.26,354.17L243.13,353.36L244.01,352.56L244.88,351.77L245.76,350.99L246.64,350.22L247.51,349.45L248.39,348.68L249.26,347.91L250.14,347.14L251.01,346.37L251.89,345.60L252.77,344.82L253.64,344.04L254.52,343.27L255.39,342.49L256.27,341.72L257.14,340.95L258.02,340.19L258.90,339.43L259.77,338.68L260.65,337.94L261.52,337.20L262.40,336.48L263.27,335.75L264.15,335.03L265.03,334.32L265.90,333.60L266.78,332.88L267.65,332.15L268.53,331.43L269.40,330.70L270.28,329.96L271.15,329.22L272.03,328.48L272.91,327.73L273.78,326.99L274.66,326.25L275.53,325.52L276.41,324.80L277.28,324.09L278.16,323.39L279.04,322.70L279.91,322.02L280.79,321.35L281.66,320.69L282.54,320.04L283.41,319.40L284.29,318.76L285.17,318.13L286.04,317.51L286.92,316.89L287.79,316.27L288.67,315.66L289.54,315.05L290.42,314.45L291.30,313.85L292.17,313.25L293.05,312.65L293.92,312.06L294.80,311.47L295.67,310.89L296.55,310.30L297.43,309.71L298.30,309.13L299.18,308.54L300.05,307.95L300.93,307.37L301.80,306.79L302.68,306.20L303.55,305.62L304.43,305.05L305.31,304.48L306.18,303.91L307.06,303.35L307.93,302.80L308.81,302.26L309.68,301.73L310.56,301.21L311.44,300.70L312.31,300.21L313.19,299.72L314.06,299.26L314.94,298.80L315.81,298.36L316.69,297.94L317.57,297.53L318.44,297.14L319.32,296.76L320.19,296.39L321.07,296.04L321.94,295.71L322.82,295.39L323.70,295.09L324.57,294.80L325.45,294.53L326.32,294.29L327.20,294.06L328.07,293.86L328.95,293.68L329.83,293.52L330.70,293.38L331.58,293.26L332.45,293.17L333.33,293.09L334.20,293.03L335.08,293.00L335.96,292.98L336.83,292.99L337.71,293.02L338.58,293.07L339.46,293.14L340.33,293.23L341.21,293.35L342.08,293.49L342.96,293.66L343.84,293.86L344.71,294.08L345.59,294.34L346.46,294.63L347.34,294.95L348.21,295.31L349.09,295.70L349.97,296.11L350.84,296.56L351.72,297.05L352.59,297.56L353.47,298.10L354.34,298.68L355.22,299.28L356.10,299.92L356.97,300.58L357.85,301.28L358.72,302.01L359.60,302.77L360.47,303.56L361.35,304.38L362.23,305.23L363.10,306.10L363.98,307.01L364.85,307.94L365.73,308.89L366.60,309.88L367.48,310.89L368.36,311.92L369.23,312.98L370.11,314.07L370.98,315.17L371.86,316.31L372.73,317.46L373.61,318.64L374.48,319.85L375.36,321.07L376.24,322.32L377.11,323.59L377.99,324.88L378.86,326.19L379.74,327.52L380.61,328.87L381.49,330.24L382.37,331.62L383.24,333.02L384.12,334.43L384.99,335.85L385.87,337.27L386.74,338.71L387.62,340.15L388.50,341.60L389.37,343.06L390.25,344.52L391.12,345.99L392.00,347.46L392.87,348.94L393.75,350.43L394.63,351.92L395.50,353.42L396.38,354.93L397.25,356.45L398.13,357.98L399.00,359.51L399.88,361.06L400.76,362.62L401.63,364.18L402.51,365.76L403.38,367.34L404.26,368.93L405.13,370.51L406.01,372.10L406.89,373.67L407.76,375.24L408.64,376.79L409.51,378.32L410.39,379.84L411.26,381.33L412.14,382.81L413.01,384.26L413.89,385.69L414.77,387.10L415.64,388.48L416.52,389.85L417.39,391.19L418.27,392.50L419.14,393.80L420.02,395.07L420.90,396.32L421.77,397.55L422.65,398.76L423.52,399.96L424.40,401.14L425.27,402.30L426.15,403.45L427.03,404.58L427.90,405.71L428.78,406.82L429.65,407.91L430.53,409.00L431.40,410.08L432.28,411.14L433.16,412.20L434.03,413.25L434.91,414.29L435.78,415.32L436.66,416.34L437.53,417.35L438.41,418.36L439.29,419.35L440.16,420.34L441.04,421.32L441.91,422.30L442.79,423.26L443.66,424.22L444.54,425.16L445.42,426.10L446.29,427.03L447.17,427.95L448.04,428.86L448.92,429.76L449.79,430.65L450.67,431.53L451.54,432.41L452.42,433.28L453.30,434.13L454.17,434.98L455.05,435.83L455.92,436.66L456.80,437.49L457.67,438.31L458.55,439.12L459.43,439.93L460.30,440.73L461.18,441.52L462.05,442.31L462.93,443.08L463.80,443.85L464.68,444.61L465.56,445.37L466.43,446.11L467.31,446.85L468.18,447.57L469.06,448.29L469.93,448.99L470.81,449.69L471.69,450.37L472.56,451.05L473.44,451.71L474.31,452.36L475.19,453.00L476.06,453.63L476.94,454.25L477.82,454.86L478.69,455.46L479.57,456.06L480.44,456.65L481.32,457.23L482.19,457.81L483.07,458.38L483.94,458.94L484.82,459.51L485.70,460.06L486.57,460.62L487.45,461.17L488.32,461.73L489.20,462.28L490.07,462.82L490.95,463.37L491.83,463.91L492.70,464.45L493.58,464.99L494.45,465.52L495.33,466.04L496.20,466.56L497.08,467.06L497.96,467.55L498.83,468.04L499.71,468.50L500.58,468.96L501.46,469.41L502.33,469.84L503.21,470.27L504.09,470.69L504.96,471.10L505.84,471.50L506.71,471.90L507.59,472.29L508.46,472.68L509.34,473.07L510.22,473.46L511.09,473.84L511.97,474.21L512.84,474.58L513.72,474.95L514.59,475.30L515.47,475.65L516.35,475.99L517.22,476.31L518.10,476.63L518.97,476.93L519.85,477.22L520.72,477.51L521.60,477.78L522.47,478.05L523.35,478.31L524.23,478.56L525.10,478.81L525.98,479.05L526.85,479.28L527.73,479.51L528.60,479.74L529.48,479.96L530.36,480.18L531.23,480.40L532.11,480.62L532.98,480.83L533.86,481.05L534.73,481.26L535.61,481.47L536.49,481.68L537.36,481.89L538.24,482.10L539.11,482.31L539.99,482.52L540.86,482.73L541.74,482.94L542.62,483.15L543.49,483.35L544.37,483.55L545.24,483.76L546.12,483.96L546.99,484.16L547.87,484.35L548.75,484.55L549.62,484.74L550.50,484.93L551.37,485.12L552.25,485.30L553.12,485.49L554.00,485.66L554.87,485.84L555.75,486.01L556.63,486.18L557.50,486.35L558.38,486.52L559.25,486.68L560.13,486.84L561.00,487.00L561.88,487.15L562.76,487.30L563.63,487.45L564.51,487.60L565.38,487.75L566.26,487.89L567.13,488.04L568.01,488.18L568.89,488.32L569.76,488.46L570.64,488.60L571.51,488.74L572.39,488.87L573.26,489.01L574.14,489.15L575.02,489.28L575.89,489.42L576.77,489.55L577.64,489.69L578.52,489.82L579.39,489.95L580.27,490.08L581.15,490.22L582.02,490.35L582.90,490.48L583.77,490.60L584.65,490.73L585.52,490.86L586.40,490.99L587.28,491.11L588.15,491.24L589.03,491.36L589.90,491.49L590.78,491.61L591.65,491.73L592.53,491.86L593.40,491.98L594.28,492.10L595.16,492.22L596.03,492.34L596.91,492.46L597.78,492.58L598.66,492.70L599.53,492.81L600.41,492.93L601.29,493.05L602.16,493.16L603.04,493.28L603.91,493.39L604.79,493.51L605.66,493.62L606.54,493.73L607.42,493.85L608.29,493.96L609.17,494.07L610.04,494.18L610.92,494.29L611.79,494.41L612.67,494.52L613.55,494.63L614.42,494.74L615.30,494.85L616.17,494.97L617.05,495.08L617.92,495.19L618.80,495.30L619.68,495.42L620.55,495.53L621.43,495.64L622.30,495.76L623.18,495.87L624.05,495.98L624.93,496.09L625.81,496.20L626.68,496.31L627.56,496.42L628.43,496.53L629.31,496.64L630.18,496.74L631.06,496.85L631.93,496.95L632.81,497.05L633.69,497.15L634.56,497.25L635.44,497.34L636.31,497.43L637.19,497.52L638.06,497.61L638.94,497.70L639.82,497.78L640.69,497.87L641.57,497.95L642.44,498.03L643.32,498.11L644.19,498.19L645.07,498.26L645.95,498.34L646.82,498.41L647.70,498.48L648.57,498.56L649.45,498.63L650.32,498.70L651.20,498.76L652.08,498.83L652.95,498.90L653.83,498.96L654.70,499.02L655.58,499.09L656.45,499.15L657.33,499.20L658.21,499.26L659.08,499.32L659.96,499.37L660.83,499.43L661.71,499.48L662.58,499.53L663.46,499.59L664.33,499.64L665.21,499.69L666.09,499.74L666.96,499.78L667.84,499.83L668.71,499.88L669.59,499.93L670.46,499.98L671.34,500.02L672.22,500.07L673.09,500.12L673.97,500.17L674.84,500.22L675.72,500.27L676.59,500.31L677.47,500.36L678.35,500.42L679.22,500.47L680.10,500.52L680.97,500.57L681.85,500.62L682.72,500.67L683.60,500.72L684.48,500.77L685.35,500.82L686.23,500.88L687.10,500.93L687.98,500.98L688.85,501.03L689.73,501.08L690.61,501.12L691.48,501.17L692.36,501.22L693.23,501.27L694.11,501.31L694.98,501.36L695.86,501.40L696.74,501.45L697.61,501.49L698.49,501.53L699.36,501.58L700.24,501.62L701.11,501.66L701.99,501.70L702.86,501.74L703.74,501.78L704.62,501.82L705.49,501.86L706.37,501.90L707.24,501.94L708.12,501.98L708.99,502.01L709.87,502.05L710.75,502.09L711.62,502.12L712.50,502.16L713.37,502.19L714.25,502.23L715.12,502.26L716.00,502.30" stroke="#cc0000"/>
<path d="M103.90,469.59L104.78,469.22L105.65,468.85L106.53,468.48L107.40,468.10L108.28,467.71L109.15,467.32L110.03,466.92L110.91,466.52L111.78,466.10L112.66,465.68L113.53,465.25L114.41,464.82L115.28,464.37L116.16,463.92L117.04,463.47L117.91,463.00L118.79,462.53L119.66,462.06L120.54,461.57L121.41,461.08L122.29,460.59L123.16,460.09L124.04,459.58L124.92,459.07L125.79,458.55L126.67,458.02L127.54,457.49L128.42,456.95L129.29,456.40L130.17,455.85L131.05,455.30L131.92,454.73L132.80,454.17L133.67,453.59L134.55,453.01L135.42,452.42L136.30,451.83L137.18,451.23L138.05,450.62L138.93,450.01L139.80,449.39L140.68,448.76L141.55,448.13L142.43,447.49L143.31,446.84L144.18,446.18L145.06,445.51L145.93,444.83L146.81,444.14L147.68,443.45L148.56,442.74L149.44,442.02L150.31,441.30L151.19,440.56L152.06,439.81L152.94,439.05L153.81,438.27L154.69,437.49L155.57,436.68L156.44,435.87L157.32,435.03L158.19,434.18L159.07,433.31L159.94,432.43L160.82,431.53L161.69,430.61L162.57,429.68L163.45,428.74L164.32,427.78L165.20,426.81L166.07,425.82L166.95,424.83L167.82,423.82L168.70,422.81L169.58,421.78L170.45,420.75L171.33,419.71L172.20,418.66L173.08,417.61L173.95,416.54L174.83,415.47L175.71,414.39L176.58,413.29L177.46,412.18L178.33,411.06L179.21,409.91L180.08,408.76L180.96,407.58L181.84,406.40L182.71,405.20L183.59,403.99L184.46,402.77L185.34,401.54L186.21,400.31L187.09,399.08L187.97,397.84L188.84,396.61L189.72,395.38L190.59,394.15L191.47,392.93L192.34,391.72L193.22,390.52L194.09,389.32L194.97,388.14L195.85,386.96L196.72,385.79L197.60,384.62L198.47,383.46L199.35,382.31L200.22,381.16L201.10,380.03L201.98,378.92L202.85,377.83L203.73,376.76L204.60,375.71L205.48,374.70L206.35,373.71L207.23,372.74L208.11,371.80L208.98,370.88L209.86,369.99L210.73,369.12L211.61,368.27L212.48,367.45L213.36,366.66L214.24,365.90L215.11,365.18L215.99,364.49L216.86,363.83L217.74,363.21L218.61,362.62L219.49,362.06L220.37,361.55L221.24,361.08L222.12,360.65L222.99,360.27L223.87,359.93L224.74,359.62L225.62,359.36L226.50,359.13L227.37,358.95L228.25,358.81L229.12,358.71L230.00,358.65L230.87,358.63L231.75,358.63L232.62,358.66L233.50,358.72L234.38,358.79L235.25,358.89L236.13,359.01L237.00,359.18L237.88,359.38L238.75,359.64L239.63,359.95L240.51,360.31L241.38,360.72L242.26,361.17L243.13,361.66L244.01,362.17L244.88,362.70L245.76,363.24L246.64,363.79L247.51,364.34L248.39,364.91L249.26,365.48L250.14,366.07L251.01,366.67L251.89,367.28L252.77,367.91L253.64,368.55L254.52,369.20L255.39,369.85L256.27,370.52L257.14,371.19L258.02,371.87L258.90,372.55L259.77,373.25L260.65,373.95L261.52,374.67L262.40,375.39L263.27,376.12L264.15,376.86L265.03,377.60L265.90,378.35L266.78,379.10L267.65,379.85L268.53,380.61L269.40,381.36L270.28,382.12L271.15,382.87L272.03,383.62L272.91,384.37L273.78,385.11L274.66,385.84L275.53,386.58L276.41,387.30L277.28,388.02L278.16,388.74L279.04,389.45L279.91,390.15L280.79,390.86L281.66,391.56L282.54,392.26L283.41,392.96L284.29,393.65L285.17,394.35L286.04,395.04L286.92,395.73L287.79,396.41L288.67,397.10L289.54,397.78L290.42,398.46L291.30,399.13L292.17,399.80L293.05,400.47L293.92,401.14L294.80,401.80L295.67,402.46L296.55,403.11L297.43,403.76L298.30,404.41L299.18,405.05L300.05,405.70L300.93,406.34L301.80,406.97L302.68,407.61L303.55,408.24L304.43,408.87L305.31,409.49L306.18,410.12L307.06,410.74L307.93,411.35L308.81,411.97L309.68,412.58L310.56,413.18L311.44,413.79L312.31,414.39L313.19,414.98L314.06,415.58L314.94,416.17L315.81,416.75L316.69,417.33L317.57,417.91L318.44,418.48L319.32,419.05L320.19,419.61L321.07,420.18L321.94,420.73L322.82,421.29L323.70,421.84L324.57,422.38L325.45,422.93L326.32,423.47L327.20,424.01L328.07,424.54L328.95,425.07L329.83,425.60L330.70,426.13L331.58,426.66L332.45,427.18L333.33,427.70L334.20,428.22L335.08,428.73L335.96,429.24L336.83,429.76L337.71,430.27L338.58,430.77L339.46,431.28L340.33,431.79L341.21,432.29L342.08,432.79L342.96,433.29L343.84,433.79L344.71,434.29L345.59,434.79L346.46,435.28L347.34,435.77L348.21,436.26L349.09,436.75L349.97,437.23L350.84,437.71L351.72,438.19L352.59,438.67L353.47,439.14L354.34,439.61L355.22,440.07L356.10,440.53L356.97,440.99L357.85,441.44L358.72,441.89L359.60,442.34L360.47,442.79L361.35,443.23L362.23,443.67L363.10,444.10L363.98,444.54L364.85,444.97L365.73,445.40L366.60,445.83L367.48,446.26L368.36,446.68L369.23,447.10L370.11,447.51L370.98,447.92L371.86,448.33L372.73,448.73L373.61,449.13L374.48,449.52L375.36,449.91L376.24,450.29L377.11,450.66L377.99,451.03L378.86,451.39L379.74,451.75L380.61,452.11L381.49,452.45L382.37,452.80L383.24,453.13L384.12,453.47L384.99,453.80L385.87,454.12L386.74,454.45L387.62,454.76L388.50,455.08L389.37,455.39L390.25,455.70L391.12,456.00L392.00,456.30L392.87,456.60L393.75,456.90L394.63,457.19L395.50,457.48L396.38,457.77L397.25,458.05L398.13,458.33L399.00,458.61L399.88,458.89L400.76,459.17L401.63,459.44L402.51,459.71L403.38,459.98L404.26,460.25L405.13,460.51L406.01,460.77L406.89,461.03L407.76,461.29L408.64,461.55L409.51,461.80L410.39,462.05L411.26,462.30L412.14,462.54L413.01,462.79L413.89,463.03L414.77,463.26L415.64,463.50L416.52,463.73L417.39,463.96L418.27,464.18L419.14,464.40L420.02,464.62L420.90,464.84L421.77,465.05L422.65,465.26L423.52,465.47L424.40,465.67L425.27,465.88L426.15,466.08L427.03,466.28L427.90,466.47L428.78,466.67L429.65,466.86L430.53,467.05L431.40,467.24L432.28,467.42L433.16,467.60L434.03,467.79L434.91,467.97L435.78,468.14L436.66,468.32L437.53,468.49L438.41,468.66L439.29,468.83L440.16,469.00L441.04,469.16L441.91,469.33L442.79,469.49L443.66,469.65L444.54,469.80L445.42,469.96L446.29,470.12L447.17,470.27L448.04,470.42L448.92,470.57L449.79,470.72L450.67,470.86L451.54,471.01L452.42,471.15L453.30,471.29L454.17,471.43L455.05,471.57L455.92,471.71L456.80,471.84L457.67,471.97L458.55,472.11L459.43,472.24L460.30,472.36L461.18,472.49L462.05,472.62L462.93,472.74L463.80,472.86L464.68,472.98L465.56,473.10L466.43,473.22L467.31,473.34L468.18,473.45L469.06,473.57L469.93,473.68L470.81,473.79L471.69,473.90L472.56,474.01L473.44,474.12L474.31,474.23L475.19,474.33L476.06,474.44L476.94,474.54L477.82,474.64L478.69,474.75L479.57,474.85L480.44,474.94L481.32,475.04L482.19,475.14L483.07,475.23L483.94,475.33L484.82,475.42L485.70,475.51L486.57,475.60L487.45,475.69L488.32,475.78L489.20,475.86L490.07,475.95L490.95,476.03L491.83,476.12L492.70,476.20L493.58,476.29L494.45,476.37L495.33,476.45L496.20,476.53L497.08,476.62L497.96,476.70L498.83,476.78L499.71,476.86L500.58,476.95L501.46,477.03L502.33,477.11L503.21,477.20L504.09,477.28L504.96,477.36L505.84,477.45L506.71,477.53L507.59,477.62L508.46,477.70L509.34,477.78L510.22,477.87L511.09,477.95L511.97,478.03L512.84,478.11L513.72,478.20L514.59,478.28L515.47,478.36L516.35,478.44L517.22,478.52L518.10,478.60L518.97,478.68L519.85,478.76L520.72,478.84L521.60,478.92L522.47,479.00L523.35,479.07L524.23,479.15L525.10,479.23L525.98,479.31L526.85,479.38L527.73,479.46L528.60,479.53L529.48,479.61L530.36,479.68L531.23,479.76L532.11,479.83L532.98,479.91L533.86,479.98L534.73,480.05L535.61,480.13L536.49,480.20L537.36,480.27L538.24,480.34L539.11,480.41L539.99,480.48L540.86,480.55L541.74,480.62L542.62,480.69L543.49,480.76L544.37,480.83L545.24,480.89L546.12,480.96L546.99,481.02L547.87,481.09L548.75,481.15L549.62,481.22L550.50,481.28L551.37,481.34L552.25,481.41L553.12,481.47L554.00,481.53L554.87,481.59L555.75,481.66L556.63,481.72L557.50,481.78L558.38,481.84L559.25,481.91L560.13,481.97L561.00,482.03L561.88,482.10L562.76,482.16L563.63,482.23L564.51,482.29L565.38,482.36L566.26,482.42L567.13,482.49L568.01,482.56L568.89,482.62L569.76,482.69L570.64,482.76L571.51,482.82L572.39,482.89L573.26,482.96L574.14,483.03L575.02,483.09L575.89,483.16L576.77,483.22L577.64,483.29L578.52,483.35L579.39,483.41L580.27,483.48L581.15,483.54L582.02,483.60L582.90,483.66L583.77,483.71L584.65,483.77L585.52,483.83L586.40,483.88L587.28,483.94L588.15,483.99L589.03,484.04L589.90,484.09L590.78,484.14L591.65,484.20L592.53,484.25L593.40,484.30L594.28,484.35L595.16,484.40L596.03,484.45L596.91,484.50L597.78,484.55L598.66,484.59L599.53,484.64L600.41,484.69L601.29,484.74L602.16,484.79L603.04,484.85L603.91,484.90L604.79,484.95L605.66,485.00L606.54,485.05L607.42,485.10L608.29,485.15L609.17,485.21L610.04,485.26L610.92,485.31L611.79,485.36L612.67,485.42L613.55,485.47L614.42,485.52L615.30,485.57L616.17,485.62L617.05,485.68L617.92,485.73L618.80,485.78L619.68,485.83L620.55,485.88L621.43,485.93L622.30,485.98L623.18,486.03L624.05,486.08L624.93,486.13L625.81,486.18L626.68,486.23L627.56,486.27L628.43,486.32L629.31,486.37L630.18,486.42L631.06,486.47L631.93,486.51L632.81,486.56L633.69,486.61L634.56,486.65L635.44,486.70L636.31,486.75L637.19,486.79L638.06,486.84L638.94,486.89L639.82,486.93L640.69,486.98L641.57,487.02L642.44,487.07L643.32,487.11L644.19,487.16L645.07,487.20L645.95,487.25L646.82,487.29L647.70,487.33L648.57,487.38L649.45,487.42L650.32,487.46L651.20,487.51L652.08,487.55L652.95,487.59L653.83,487.63L654.70,487.67L655.58,487.72L656.45,487.76L657.33,487.80L658.21,487.84L659.08,487.89L659.96,487.93L660.83,487.97L661.71,488.02L662.58,488.06L663.46,488.10L664.33,488.15L665.21,488.19L666.09,488.24L666.96,488.28L667.84,488.33L668.71,488.38L669.59,488.42L670.46,488.47L671.34,488.52L672.22,488.57L673.09,488.62L673.97,488.67L674.84,488.71L675.72,488.76L676.59,488.81L677.47,488.86L678.35,488.91L679.22,488.96L680.10,489.01L680.97,489.05L681.85,489.10L682.72,489.15L683.60,489.19L684.48,489.24L685.35,489.28L686.23,489.33L687.10,489.37L687.98,489.42L688.85,489.46L689.73,489.50L690.61,489.54L691.48,489.58L692.36,489.62L693.23,489.66L694.11,489.71L694.98,489.75L695.86,489.79L696.74,489.83L697.61,489.87L698.49,489.91L699.36,489.95L700.24,489.99L701.11,490.04L701.99,490.08L702.86,490.12L703.74,490.17L704.62,490.21L705.49,490.26L706.37,490.31L707.24,490.36L708.12,490.41L708.99,490.46L709.87,490.51L710.75,490.57L711.62,490.62L712.50,490.67L713.37,490.73L714.25,490.79L715.12,490.84L716.00,490.90" stroke="#cc0000"/>
<g fill="#cc0000" stroke="none">
<circle cx="114.11" cy="464.97" r="3.1"/>
<circle cx="134.53" cy="453.02" r="3.1"/>
<circle cx="154.95" cy="437.25" r="3.1"/>
<circle cx="175.37" cy="414.80" r="3.1"/>
<circle cx="195.79" cy="387.03" r="3.1"/>
<circle cx="216.21" cy="364.32" r="3.1"/>
<circle cx="236.63" cy="359.11" r="3.1"/>
<circle cx="257.05" cy="371.11" r="3.1"/>
<circle cx="277.47" cy="388.17" r="3.1"/>
<circle cx="297.89" cy="404.11" r="3.1"/>
<circle cx="318.31" cy="418.39" r="3.1"/>
<circle cx="338.73" cy="430.86" r="3.1"/>
<circle cx="359.15" cy="442.11" r="3.1"/>
<circle cx="379.57" cy="451.68" r="3.1"/>
<circle cx="399.99" cy="458.93" r="3.1"/>
<circle cx="420.41" cy="464.72" r="3.1"/>
<circle cx="440.83" cy="469.12" r="3.1"/>
<circle cx="461.25" cy="472.50" r="3.1"/>
<circle cx="481.67" cy="475.08" r="3.1"/>
<circle cx="502.09" cy="477.09" r="3.1"/>
<circle cx="522.51" cy="479.00" r="3.1"/>
<circle cx="542.93" cy="480.72" r="3.1"/>
<circle cx="563.35" cy="482.21" r="3.1"/>
<circle cx="583.77" cy="483.71" r="3.1"/>
<circle cx="604.19" cy="484.91" r="3.1"/>
<circle cx="624.61" cy="486.11" r="3.1"/>
<circle cx="645.03" cy="487.20" r="3.1"/>
<circle cx="665.45" cy="488.20" r="3.1"/>
<circle cx="685.87" cy="489.31" r="3.1"/>
<circle cx="706.29" cy="490.30" r="3.1"/>
</g>
</g>
<rect x="103.90" y="51.60" width="612.10" height="460.00" fill="none" stroke="#000" stroke-width="1.7"/>
<g fill="none" stroke-width="2">
<path d="M646.3,69.5 H695.3" stroke="#006400" stroke-dasharray="20.7 7.2 3.4 6.9"/>
<path d="M646.3,90.2 H695.3" stroke="#006400" stroke-dasharray="20.7 7.2 3.4 6.9"/>
<path d="M646.3,110.9 H695.3" stroke="#cc0000"/>
<path d="M646.3,131.7 H695.3" stroke="#cc0000"/>
</g>
<g fill="#006400" stroke="#006400" stroke-width="0.5" stroke-linejoin="round"><path d="M666.30,87.90 L675.10,87.90 L670.70,94.70 Z"/></g>
<circle cx="670.80" cy="131.70" r="3.1" fill="#cc0000"/>
<g fill="#000" style="font-kerning:none" opacity="0.999">
<g transform="translate(93.00,517.10)"><text x="-9.45" y="0.00" font-family="'Liberation Sans', sans-serif" font-weight="bold" font-size="17.00" xml:space="preserve">0</text></g>
<g transform="translate(730.60,517.10)"><text x="0.00" y="0.00" font-family="'Liberation Sans', sans-serif" font-weight="bold" font-size="17.00" xml:space="preserve">0</text></g>
<g transform="translate(93.00,459.60)"><text x="-42.54" y="0.00" font-family="'Liberation Sans', sans-serif" font-weight="bold" font-size="17.00" xml:space="preserve">0.005</text></g>
<g transform="translate(730.60,459.60)"><text x="0.00" y="0.00" font-family="'Liberation Sans', sans-serif" font-weight="bold" font-size="17.00" xml:space="preserve">0.005</text></g>
<g transform="translate(93.00,402.10)"><text x="-33.09" y="0.00" font-family="'Liberation Sans', sans-serif" font-weight="bold" font-size="17.00" xml:space="preserve">0.01</text></g>
<g transform="translate(730.60,402.10)"><text x="0.00" y="0.00" font-family="'Liberation Sans', sans-serif" font-weight="bold" font-size="17.00" xml:space="preserve">0.01</text></g>
<g transform="translate(93.00,344.60)"><text x="-42.54" y="0.00" font-family="'Liberation Sans', sans-serif" font-weight="bold" font-size="17.00" xml:space="preserve">0.015</text></g>
<g transform="translate(730.60,344.60)"><text x="0.00" y="0.00" font-family="'Liberation Sans', sans-serif" font-weight="bold" font-size="17.00" xml:space="preserve">0.015</text></g>
<g transform="translate(93.00,287.10)"><text x="-33.09" y="0.00" font-family="'Liberation Sans', sans-serif" font-weight="bold" font-size="17.00" xml:space="preserve">0.02</text></g>
<g transform="translate(730.60,287.10)"><text x="0.00" y="0.00" font-family="'Liberation Sans', sans-serif" font-weight="bold" font-size="17.00" xml:space="preserve">0.02</text></g>
<g transform="translate(93.00,229.60)"><text x="-42.54" y="0.00" font-family="'Liberation Sans', sans-serif" font-weight="bold" font-size="17.00" xml:space="preserve">0.025</text></g>
<g transform="translate(730.60,229.60)"><text x="0.00" y="0.00" font-family="'Liberation Sans', sans-serif" font-weight="bold" font-size="17.00" xml:space="preserve">0.025</text></g>
<g transform="translate(93.00,172.10)"><text x="-33.09" y="0.00" font-family="'Liberation Sans', sans-serif" font-weight="bold" font-size="17.00" xml:space="preserve">0.03</text></g>
<g transform="translate(730.60,172.10)"><text x="0.00" y="0.00" font-family="'Liberation Sans', sans-serif" font-weight="bold" font-size="17.00" xml:space="preserve">0.03</text></g>
<g transform="translate(93.00,114.60)"><text x="-42.54" y="0.00" font-family="'Liberation Sans', sans-serif" font-weight="bold" font-size="17.00" xml:space="preserve">0.035</text></g>
<g transform="translate(730.60,114.60)"><text x="0.00" y="0.00" font-family="'Liberation Sans', sans-serif" font-weight="bold" font-size="17.00" xml:space="preserve">0.035</text></g>
<g transform="translate(93.00,57.10)"><text x="-33.09" y="0.00" font-family="'Liberation Sans', sans-serif" font-weight="bold" font-size="17.00" xml:space="preserve">0.04</text></g>
<g transform="translate(730.60,57.10)"><text x="0.00" y="0.00" font-family="'Liberation Sans', sans-serif" font-weight="bold" font-size="17.00" xml:space="preserve">0.04</text></g>
<g transform="translate(106.20,534.50)"><text x="-14.18" y="0.00" font-family="'Liberation Sans', sans-serif" font-weight="bold" font-size="17.00" xml:space="preserve">130</text></g>
<g transform="translate(157.21,534.50)"><text x="-14.18" y="0.00" font-family="'Liberation Sans', sans-serif" font-weight="bold" font-size="17.00" xml:space="preserve">140</text></g>
<g transform="translate(208.22,534.50)"><text x="-14.18" y="0.00" font-family="'Liberation Sans', sans-serif" font-weight="bold" font-size="17.00" xml:space="preserve">150</text></g>
<g transform="translate(259.23,534.50)"><text x="-14.18" y="0.00" font-family="'Liberation Sans', sans-serif" font-weight="bold" font-size="17.00" xml:space="preserve">160</text></g>
<g transform="translate(310.23,534.50)"><text x="-14.18" y="0.00" font-family="'Liberation Sans', sans-serif" font-weight="bold" font-size="17.00" xml:space="preserve">170</text></g>
<g transform="translate(361.24,534.50)"><text x="-14.18" y="0.00" font-family="'Liberation Sans', sans-serif" font-weight="bold" font-size="17.00" xml:space="preserve">180</text></g>
<g transform="translate(412.25,534.50)"><text x="-14.18" y="0.00" font-family="'Liberation Sans', sans-serif" font-weight="bold" font-size="17.00" xml:space="preserve">190</text></g>
<g transform="translate(462.56,534.50)"><text x="-14.18" y="0.00" font-family="'Liberation Sans', sans-serif" font-weight="bold" font-size="17.00" xml:space="preserve">200</text></g>
<g transform="translate(513.57,534.50)"><text x="-14.18" y="0.00" font-family="'Liberation Sans', sans-serif" font-weight="bold" font-size="17.00" xml:space="preserve">210</text></g>
<g transform="translate(564.58,534.50)"><text x="-14.18" y="0.00" font-family="'Liberation Sans', sans-serif" font-weight="bold" font-size="17.00" xml:space="preserve">220</text></g>
<g transform="translate(615.58,534.50)"><text x="-14.18" y="0.00" font-family="'Liberation Sans', sans-serif" font-weight="bold" font-size="17.00" xml:space="preserve">230</text></g>
<g transform="translate(666.59,534.50)"><text x="-14.18" y="0.00" font-family="'Liberation Sans', sans-serif" font-weight="bold" font-size="17.00" xml:space="preserve">240</text></g>
<g transform="translate(717.60,534.50)"><text x="-14.18" y="0.00" font-family="'Liberation Sans', sans-serif" font-weight="bold" font-size="17.00" xml:space="preserve">250</text></g>
<g transform="translate(410.00,560.60)"><text x="-28.33" y="0.00" font-family="'Liberation Sans', sans-serif" font-weight="bold" font-size="17.00" xml:space="preserve">T(MeV)</text></g>
<g transform="translate(409.80,29.80) scale(1.0180,1)"><text x="-80.70" y="0.00" font-family="'Liberation Sans', sans-serif" font-weight="bold" font-size="17.00" xml:space="preserve">RPQM  m</text><text x="-5.14" y="4.20" font-family="'Liberation Serif', serif" font-weight="normal" stroke="#000" stroke-width="0.3" font-size="14.60" xml:space="preserve">σ</text><text x="2.73" y="0.00" font-family="'Liberation Sans', sans-serif" font-weight="bold" font-size="17.00" xml:space="preserve">=500 MeV</text></g>
<g transform="translate(636.30,73.10) scale(1.0200,1)"><text x="-116.07" y="0.00" font-family="'Liberation Sans', sans-serif" font-weight="bold" font-size="17.00" xml:space="preserve">Log, </text><text transform="translate(-74.87,0.00) skewX(13)" font-family="'Liberation Serif', serif" font-weight="normal" stroke="#000" stroke-width="0.3" font-size="17.00">∂</text><text x="-67.07" y="0.00" font-family="'Liberation Sans', sans-serif" font-weight="bold" font-size="17.00" xml:space="preserve">(</text><text x="-61.41" y="0.00" font-family="'Liberation Serif', serif" font-weight="normal" stroke="#000" stroke-width="0.3" font-size="17.00" xml:space="preserve">σ</text><text x="-51.64" y="0.00" font-family="'Liberation Serif', serif" font-weight="normal" stroke="#000" stroke-width="0.3" font-size="17.00" xml:space="preserve">/</text><text x="-46.92" y="0.00" font-family="'Liberation Sans', sans-serif" font-weight="bold" font-size="17.00" xml:space="preserve">f</text><text x="-41.26" y="4.20" font-family="'Liberation Serif', serif" font-weight="normal" stroke="#000" stroke-width="0.3" font-size="13.60" xml:space="preserve">π</text><text x="-33.89" y="0.00" font-family="'Liberation Sans', sans-serif" font-weight="bold" font-size="17.00" xml:space="preserve">)</text><text x="-28.23" y="0.00" font-family="'Liberation Serif', serif" font-weight="normal" stroke="#000" stroke-width="0.3" font-size="17.00" xml:space="preserve">/</text><text transform="translate(-22.91,0.00) skewX(13)" font-family="'Liberation Serif', serif" font-weight="normal" stroke="#000" stroke-width="0.3" font-size="17.00">∂</text><text x="-15.11" y="0.00" font-family="'Liberation Sans', sans-serif" font-weight="bold" font-size="17.00" xml:space="preserve"> T</text></g>
<g transform="translate(636.30,95.30) scale(1.0200,1)"><text transform="translate(-48.86,0.00) skewX(13)" font-family="'Liberation Serif', serif" font-weight="normal" stroke="#000" stroke-width="0.3" font-size="17.00">∂</text><text x="-41.06" y="0.00" font-family="'Liberation Serif', serif" font-weight="normal" stroke="#000" stroke-width="0.3" font-size="17.00" xml:space="preserve">Φ</text><text x="-28.23" y="0.00" font-family="'Liberation Serif', serif" font-weight="normal" stroke="#000" stroke-width="0.3" font-size="17.00" xml:space="preserve">/</text><text transform="translate(-22.91,0.00) skewX(13)" font-family="'Liberation Serif', serif" font-weight="normal" stroke="#000" stroke-width="0.3" font-size="17.00">∂</text><text x="-15.11" y="0.00" font-family="'Liberation Sans', sans-serif" font-weight="bold" font-size="17.00" xml:space="preserve"> T</text></g>
<g transform="translate(636.30,114.50) scale(1.0200,1)"><text x="-192.58" y="0.00" font-family="'Liberation Sans', sans-serif" font-weight="bold" font-size="17.00" xml:space="preserve">PolyLog-glue, </text><text transform="translate(-74.87,0.00) skewX(13)" font-family="'Liberation Serif', serif" font-weight="normal" stroke="#000" stroke-width="0.3" font-size="17.00">∂</text><text x="-67.07" y="0.00" font-family="'Liberation Sans', sans-serif" font-weight="bold" font-size="17.00" xml:space="preserve">(</text><text x="-61.41" y="0.00" font-family="'Liberation Serif', serif" font-weight="normal" stroke="#000" stroke-width="0.3" font-size="17.00" xml:space="preserve">σ</text><text x="-51.64" y="0.00" font-family="'Liberation Serif', serif" font-weight="normal" stroke="#000" stroke-width="0.3" font-size="17.00" xml:space="preserve">/</text><text x="-46.92" y="0.00" font-family="'Liberation Sans', sans-serif" font-weight="bold" font-size="17.00" xml:space="preserve">f</text><text x="-41.26" y="4.20" font-family="'Liberation Serif', serif" font-weight="normal" stroke="#000" stroke-width="0.3" font-size="13.60" xml:space="preserve">π</text><text x="-33.89" y="0.00" font-family="'Liberation Sans', sans-serif" font-weight="bold" font-size="17.00" xml:space="preserve">)</text><text x="-28.23" y="0.00" font-family="'Liberation Serif', serif" font-weight="normal" stroke="#000" stroke-width="0.3" font-size="17.00" xml:space="preserve">/</text><text transform="translate(-22.91,0.00) skewX(13)" font-family="'Liberation Serif', serif" font-weight="normal" stroke="#000" stroke-width="0.3" font-size="17.00">∂</text><text x="-15.11" y="0.00" font-family="'Liberation Sans', sans-serif" font-weight="bold" font-size="17.00" xml:space="preserve"> T</text></g>
<g transform="translate(636.30,137.10) scale(1.0200,1)"><text transform="translate(-48.86,0.00) skewX(13)" font-family="'Liberation Serif', serif" font-weight="normal" stroke="#000" stroke-width="0.3" font-size="17.00">∂</text><text x="-41.06" y="0.00" font-family="'Liberation Serif', serif" font-weight="normal" stroke="#000" stroke-width="0.3" font-size="17.00" xml:space="preserve">Φ</text><text x="-28.23" y="0.00" font-family="'Liberation Serif', serif" font-weight="normal" stroke="#000" stroke-width="0.3" font-size="17.00" xml:space="preserve">/</text><text transform="translate(-22.91,0.00) skewX(13)" font-family="'Liberation Serif', serif" font-weight="normal" stroke="#000" stroke-width="0.3" font-size="17.00">∂</text><text x="-15.11" y="0.00" font-family="'Liberation Sans', sans-serif" font-weight="bold" font-size="17.00" xml:space="preserve"> T</text></g>
<g transform="translate(19.60,282.50) rotate(-90) scale(1.0200,1)"><text transform="translate(-103.04,0.00) skewX(13)" font-family="'Liberation Serif', serif" font-weight="normal" stroke="#000" stroke-width="0.3" font-size="17.00">∂</text><text x="-95.24" y="0.00" font-family="'Liberation Sans', sans-serif" font-weight="bold" font-size="17.00" xml:space="preserve">(</text><text x="-89.58" y="0.00" font-family="'Liberation Serif', serif" font-weight="normal" stroke="#000" stroke-width="0.3" font-size="17.00" xml:space="preserve">σ</text><text x="-79.81" y="0.00" font-family="'Liberation Serif', serif" font-weight="normal" stroke="#000" stroke-width="0.3" font-size="17.00" xml:space="preserve">/</text><text x="-75.09" y="0.00" font-family="'Liberation Sans', sans-serif" font-weight="bold" font-size="17.00" xml:space="preserve">f</text><text x="-69.43" y="4.20" font-family="'Liberation Serif', serif" font-weight="normal" stroke="#000" stroke-width="0.3" font-size="13.60" xml:space="preserve">π</text><text x="-62.06" y="0.00" font-family="'Liberation Sans', sans-serif" font-weight="bold" font-size="17.00" xml:space="preserve">)</text><text x="-56.40" y="0.00" font-family="'Liberation Serif', serif" font-weight="normal" stroke="#000" stroke-width="0.3" font-size="17.00" xml:space="preserve">/</text><text transform="translate(-51.08,0.00) skewX(13)" font-family="'Liberation Serif', serif" font-weight="normal" stroke="#000" stroke-width="0.3" font-size="17.00">∂</text><text x="-43.28" y="0.00" font-family="'Liberation Sans', sans-serif" font-weight="bold" font-size="17.00" xml:space="preserve"> T</text><text x="-28.17" y="0.00" font-family="'Liberation Sans', sans-serif" font-weight="bold" font-size="17.00" xml:space="preserve">, </text><text transform="translate(-18.13,0.00) skewX(13)" font-family="'Liberation Serif', serif" font-weight="normal" stroke="#000" stroke-width="0.3" font-size="17.00">∂</text><text x="-10.33" y="0.00" font-family="'Liberation Serif', serif" font-weight="normal" stroke="#000" stroke-width="0.3" font-size="17.00" xml:space="preserve">Φ</text><text x="2.50" y="0.00" font-family="'Liberation Serif', serif" font-weight="normal" stroke="#000" stroke-width="0.3" font-size="17.00" xml:space="preserve">/</text><text transform="translate(7.82,0.00) skewX(13)" font-family="'Liberation Serif', serif" font-weight="normal" stroke="#000" stroke-width="0.3" font-size="17.00">∂</text><text x="15.62" y="0.00" font-family="'Liberation Sans', sans-serif" font-weight="bold" font-size="17.00" xml:space="preserve"> T</text><text x="30.73" y="0.00" font-family="'Liberation Sans', sans-serif" font-weight="bold" font-size="17.00" xml:space="preserve">= </text><text transform="translate(45.98,0.00) skewX(13)" font-family="'Liberation Serif', serif" font-weight="normal" stroke="#000" stroke-width="0.3" font-size="17.00">∂</text><text x="53.78" y="0.00" font-family="'Liberation Serif', serif" font-weight="normal" stroke="#000" stroke-width="0.3" font-size="17.00" xml:space="preserve">Φ</text><text x="66.61" y="-2.60" font-family="'Liberation Serif', serif" font-weight="normal" stroke="#000" stroke-width="0.3" font-size="23.00" xml:space="preserve">*</text><text x="75.41" y="0.00" font-family="'Liberation Serif', serif" font-weight="normal" stroke="#000" stroke-width="0.3" font-size="17.00" xml:space="preserve">/</text><text transform="translate(80.73,0.00) skewX(13)" font-family="'Liberation Serif', serif" font-weight="normal" stroke="#000" stroke-width="0.3" font-size="17.00">∂</text><text x="88.53" y="0.00" font-family="'Liberation Sans', sans-serif" font-weight="bold" font-size="17.00" xml:space="preserve"> T</text></g>
</g>
</svg>
</body>
</html>
